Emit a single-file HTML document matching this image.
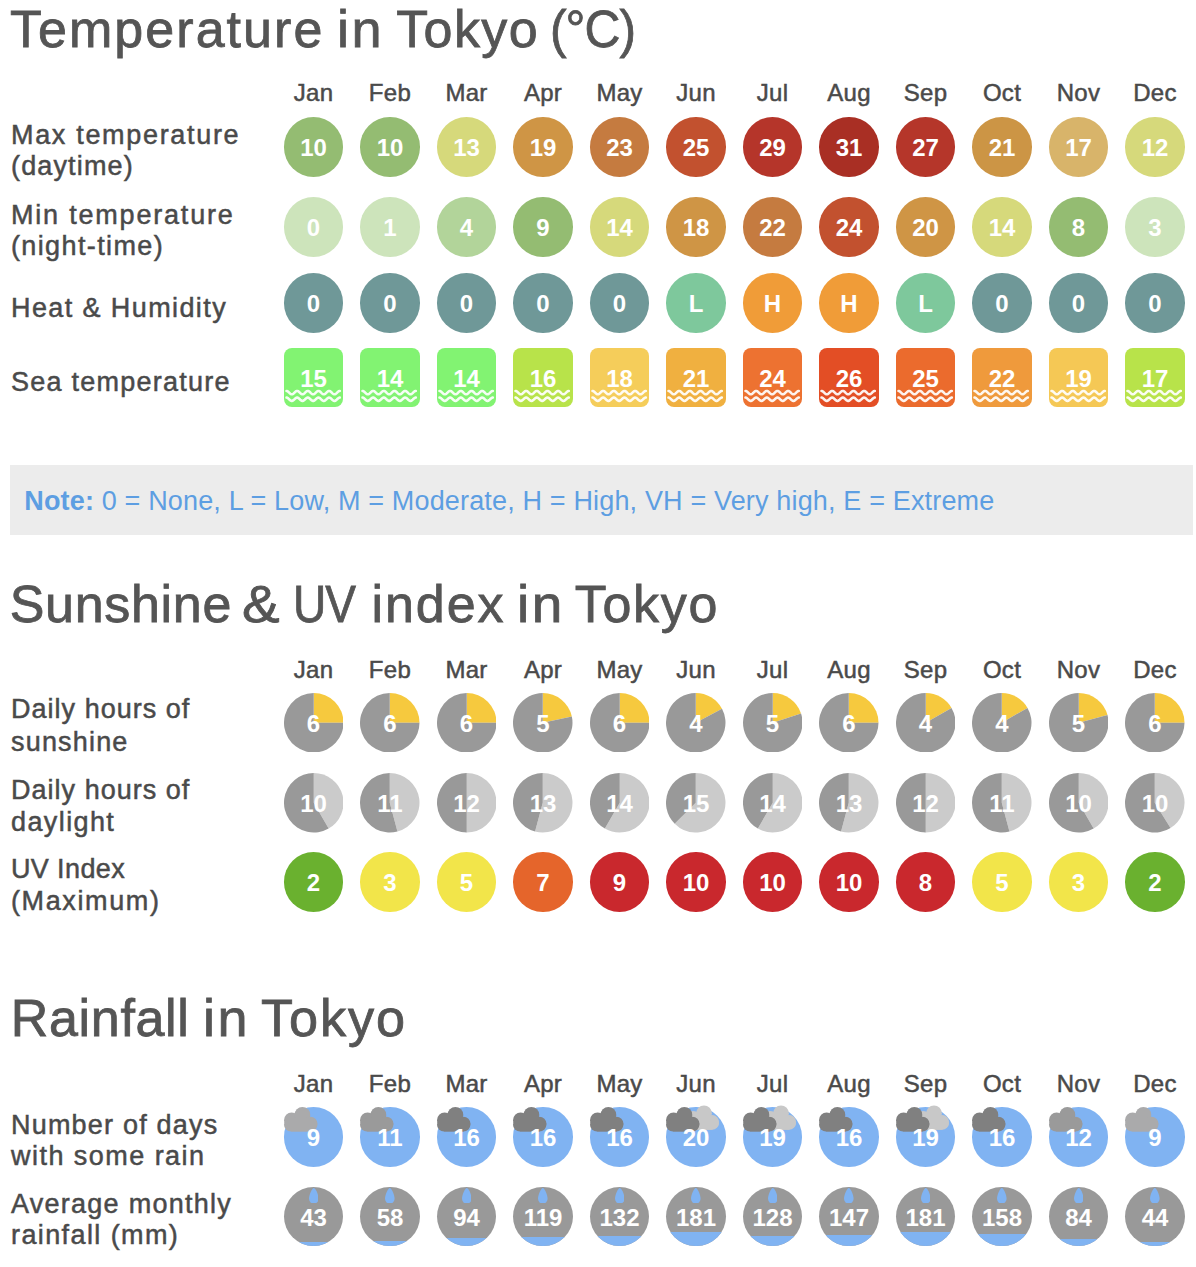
<!DOCTYPE html>
<html><head><meta charset="utf-8"><style>
html,body{margin:0;padding:0;background:#fff;width:1196px;height:1267px;overflow:hidden;position:relative}
body{font-family:"Liberation Sans",sans-serif}
.t{position:absolute;white-space:nowrap}
.c{position:absolute;width:59.5px;height:59.5px;border-radius:50%}
.sq{position:absolute;width:59.5px;height:59.5px;border-radius:8px}
.wv,.pie,.cl,.drop{position:absolute;display:block}
</style></head><body>
<div class="t" style="left:10.00px;top:2.98px;font-size:52px;line-height:52px;color:#555;font-weight:normal;letter-spacing:2.04px;-webkit-text-stroke:0.8px #555;">Temperature</div>
<div class="t" style="left:337.18px;top:2.98px;font-size:52px;line-height:52px;color:#555;font-weight:normal;letter-spacing:2.5px;-webkit-text-stroke:0.8px #555;transform:scaleX(1.0405);transform-origin:0 0;">in</div>
<div class="t" style="left:396.20px;top:2.98px;font-size:52px;line-height:52px;color:#555;font-weight:normal;letter-spacing:1.4px;-webkit-text-stroke:0.8px #555;">Tokyo</div>
<div class="t" style="left:549.83px;top:2.98px;font-size:52px;line-height:52px;color:#555;font-weight:normal;letter-spacing:-1.0px;-webkit-text-stroke:0.8px #555;transform:scaleX(0.956);transform-origin:0 0;">(°C)</div>
<div class="t" style="left:9.70px;top:578.38px;font-size:52px;line-height:52px;color:#555;font-weight:normal;letter-spacing:0.686px;-webkit-text-stroke:0.8px #555;">Sunshine</div>
<div class="t" style="left:242.42px;top:578.38px;font-size:52px;line-height:52px;color:#555;font-weight:normal;letter-spacing:0px;-webkit-text-stroke:0.8px #555;transform:scaleX(1.0848);transform-origin:0 0;">&amp;</div>
<div class="t" style="left:293.34px;top:578.38px;font-size:52px;line-height:52px;color:#555;font-weight:normal;letter-spacing:-1.0px;-webkit-text-stroke:0.8px #555;transform:scaleX(0.8853);transform-origin:0 0;">UV</div>
<div class="t" style="left:371.60px;top:578.38px;font-size:52px;line-height:52px;color:#555;font-weight:normal;letter-spacing:1.9px;-webkit-text-stroke:0.8px #555;">index</div>
<div class="t" style="left:516.83px;top:578.38px;font-size:52px;line-height:52px;color:#555;font-weight:normal;letter-spacing:2.5px;-webkit-text-stroke:0.8px #555;transform:scaleX(1.0568);transform-origin:0 0;">in</div>
<div class="t" style="left:574.70px;top:578.38px;font-size:52px;line-height:52px;color:#555;font-weight:normal;letter-spacing:1.7px;-webkit-text-stroke:0.8px #555;">Tokyo</div>
<div class="t" style="left:10.70px;top:991.98px;font-size:52px;line-height:52px;color:#555;font-weight:normal;letter-spacing:0.686px;-webkit-text-stroke:0.8px #555;">Rainfall</div>
<div class="t" style="left:203.29px;top:991.98px;font-size:52px;line-height:52px;color:#555;font-weight:normal;letter-spacing:2.5px;-webkit-text-stroke:0.8px #555;transform:scaleX(1.0378);transform-origin:0 0;">in</div>
<div class="t" style="left:260.69px;top:991.98px;font-size:52px;line-height:52px;color:#555;font-weight:normal;letter-spacing:1.85px;-webkit-text-stroke:0.8px #555;transform:scaleX(1.005);transform-origin:0 0;">Tokyo</div>
<div class="t" style="left:113.50px;width:400px;text-align:center;top:81.28px;font-size:24px;line-height:24px;color:#4a4a4a;font-weight:normal;letter-spacing:0.3px;-webkit-text-stroke:0.5px #4a4a4a;">Jan</div>
<div class="t" style="left:190.00px;width:400px;text-align:center;top:81.28px;font-size:24px;line-height:24px;color:#4a4a4a;font-weight:normal;letter-spacing:0.3px;-webkit-text-stroke:0.5px #4a4a4a;">Feb</div>
<div class="t" style="left:266.50px;width:400px;text-align:center;top:81.28px;font-size:24px;line-height:24px;color:#4a4a4a;font-weight:normal;letter-spacing:0.3px;-webkit-text-stroke:0.5px #4a4a4a;">Mar</div>
<div class="t" style="left:343.00px;width:400px;text-align:center;top:81.28px;font-size:24px;line-height:24px;color:#4a4a4a;font-weight:normal;letter-spacing:0.3px;-webkit-text-stroke:0.5px #4a4a4a;">Apr</div>
<div class="t" style="left:419.50px;width:400px;text-align:center;top:81.28px;font-size:24px;line-height:24px;color:#4a4a4a;font-weight:normal;letter-spacing:0.3px;-webkit-text-stroke:0.5px #4a4a4a;">May</div>
<div class="t" style="left:496.00px;width:400px;text-align:center;top:81.28px;font-size:24px;line-height:24px;color:#4a4a4a;font-weight:normal;letter-spacing:0.3px;-webkit-text-stroke:0.5px #4a4a4a;">Jun</div>
<div class="t" style="left:572.50px;width:400px;text-align:center;top:81.28px;font-size:24px;line-height:24px;color:#4a4a4a;font-weight:normal;letter-spacing:0.3px;-webkit-text-stroke:0.5px #4a4a4a;">Jul</div>
<div class="t" style="left:649.00px;width:400px;text-align:center;top:81.28px;font-size:24px;line-height:24px;color:#4a4a4a;font-weight:normal;letter-spacing:0.3px;-webkit-text-stroke:0.5px #4a4a4a;">Aug</div>
<div class="t" style="left:725.50px;width:400px;text-align:center;top:81.28px;font-size:24px;line-height:24px;color:#4a4a4a;font-weight:normal;letter-spacing:0.3px;-webkit-text-stroke:0.5px #4a4a4a;">Sep</div>
<div class="t" style="left:802.00px;width:400px;text-align:center;top:81.28px;font-size:24px;line-height:24px;color:#4a4a4a;font-weight:normal;letter-spacing:0.3px;-webkit-text-stroke:0.5px #4a4a4a;">Oct</div>
<div class="t" style="left:878.50px;width:400px;text-align:center;top:81.28px;font-size:24px;line-height:24px;color:#4a4a4a;font-weight:normal;letter-spacing:0.3px;-webkit-text-stroke:0.5px #4a4a4a;">Nov</div>
<div class="t" style="left:955.00px;width:400px;text-align:center;top:81.28px;font-size:24px;line-height:24px;color:#4a4a4a;font-weight:normal;letter-spacing:0.3px;-webkit-text-stroke:0.5px #4a4a4a;">Dec</div>
<div class="t" style="left:113.50px;width:400px;text-align:center;top:658.38px;font-size:24px;line-height:24px;color:#4a4a4a;font-weight:normal;letter-spacing:0.3px;-webkit-text-stroke:0.5px #4a4a4a;">Jan</div>
<div class="t" style="left:190.00px;width:400px;text-align:center;top:658.38px;font-size:24px;line-height:24px;color:#4a4a4a;font-weight:normal;letter-spacing:0.3px;-webkit-text-stroke:0.5px #4a4a4a;">Feb</div>
<div class="t" style="left:266.50px;width:400px;text-align:center;top:658.38px;font-size:24px;line-height:24px;color:#4a4a4a;font-weight:normal;letter-spacing:0.3px;-webkit-text-stroke:0.5px #4a4a4a;">Mar</div>
<div class="t" style="left:343.00px;width:400px;text-align:center;top:658.38px;font-size:24px;line-height:24px;color:#4a4a4a;font-weight:normal;letter-spacing:0.3px;-webkit-text-stroke:0.5px #4a4a4a;">Apr</div>
<div class="t" style="left:419.50px;width:400px;text-align:center;top:658.38px;font-size:24px;line-height:24px;color:#4a4a4a;font-weight:normal;letter-spacing:0.3px;-webkit-text-stroke:0.5px #4a4a4a;">May</div>
<div class="t" style="left:496.00px;width:400px;text-align:center;top:658.38px;font-size:24px;line-height:24px;color:#4a4a4a;font-weight:normal;letter-spacing:0.3px;-webkit-text-stroke:0.5px #4a4a4a;">Jun</div>
<div class="t" style="left:572.50px;width:400px;text-align:center;top:658.38px;font-size:24px;line-height:24px;color:#4a4a4a;font-weight:normal;letter-spacing:0.3px;-webkit-text-stroke:0.5px #4a4a4a;">Jul</div>
<div class="t" style="left:649.00px;width:400px;text-align:center;top:658.38px;font-size:24px;line-height:24px;color:#4a4a4a;font-weight:normal;letter-spacing:0.3px;-webkit-text-stroke:0.5px #4a4a4a;">Aug</div>
<div class="t" style="left:725.50px;width:400px;text-align:center;top:658.38px;font-size:24px;line-height:24px;color:#4a4a4a;font-weight:normal;letter-spacing:0.3px;-webkit-text-stroke:0.5px #4a4a4a;">Sep</div>
<div class="t" style="left:802.00px;width:400px;text-align:center;top:658.38px;font-size:24px;line-height:24px;color:#4a4a4a;font-weight:normal;letter-spacing:0.3px;-webkit-text-stroke:0.5px #4a4a4a;">Oct</div>
<div class="t" style="left:878.50px;width:400px;text-align:center;top:658.38px;font-size:24px;line-height:24px;color:#4a4a4a;font-weight:normal;letter-spacing:0.3px;-webkit-text-stroke:0.5px #4a4a4a;">Nov</div>
<div class="t" style="left:955.00px;width:400px;text-align:center;top:658.38px;font-size:24px;line-height:24px;color:#4a4a4a;font-weight:normal;letter-spacing:0.3px;-webkit-text-stroke:0.5px #4a4a4a;">Dec</div>
<div class="t" style="left:113.50px;width:400px;text-align:center;top:1071.68px;font-size:24px;line-height:24px;color:#4a4a4a;font-weight:normal;letter-spacing:0.3px;-webkit-text-stroke:0.5px #4a4a4a;">Jan</div>
<div class="t" style="left:190.00px;width:400px;text-align:center;top:1071.68px;font-size:24px;line-height:24px;color:#4a4a4a;font-weight:normal;letter-spacing:0.3px;-webkit-text-stroke:0.5px #4a4a4a;">Feb</div>
<div class="t" style="left:266.50px;width:400px;text-align:center;top:1071.68px;font-size:24px;line-height:24px;color:#4a4a4a;font-weight:normal;letter-spacing:0.3px;-webkit-text-stroke:0.5px #4a4a4a;">Mar</div>
<div class="t" style="left:343.00px;width:400px;text-align:center;top:1071.68px;font-size:24px;line-height:24px;color:#4a4a4a;font-weight:normal;letter-spacing:0.3px;-webkit-text-stroke:0.5px #4a4a4a;">Apr</div>
<div class="t" style="left:419.50px;width:400px;text-align:center;top:1071.68px;font-size:24px;line-height:24px;color:#4a4a4a;font-weight:normal;letter-spacing:0.3px;-webkit-text-stroke:0.5px #4a4a4a;">May</div>
<div class="t" style="left:496.00px;width:400px;text-align:center;top:1071.68px;font-size:24px;line-height:24px;color:#4a4a4a;font-weight:normal;letter-spacing:0.3px;-webkit-text-stroke:0.5px #4a4a4a;">Jun</div>
<div class="t" style="left:572.50px;width:400px;text-align:center;top:1071.68px;font-size:24px;line-height:24px;color:#4a4a4a;font-weight:normal;letter-spacing:0.3px;-webkit-text-stroke:0.5px #4a4a4a;">Jul</div>
<div class="t" style="left:649.00px;width:400px;text-align:center;top:1071.68px;font-size:24px;line-height:24px;color:#4a4a4a;font-weight:normal;letter-spacing:0.3px;-webkit-text-stroke:0.5px #4a4a4a;">Aug</div>
<div class="t" style="left:725.50px;width:400px;text-align:center;top:1071.68px;font-size:24px;line-height:24px;color:#4a4a4a;font-weight:normal;letter-spacing:0.3px;-webkit-text-stroke:0.5px #4a4a4a;">Sep</div>
<div class="t" style="left:802.00px;width:400px;text-align:center;top:1071.68px;font-size:24px;line-height:24px;color:#4a4a4a;font-weight:normal;letter-spacing:0.3px;-webkit-text-stroke:0.5px #4a4a4a;">Oct</div>
<div class="t" style="left:878.50px;width:400px;text-align:center;top:1071.68px;font-size:24px;line-height:24px;color:#4a4a4a;font-weight:normal;letter-spacing:0.3px;-webkit-text-stroke:0.5px #4a4a4a;">Nov</div>
<div class="t" style="left:955.00px;width:400px;text-align:center;top:1071.68px;font-size:24px;line-height:24px;color:#4a4a4a;font-weight:normal;letter-spacing:0.3px;-webkit-text-stroke:0.5px #4a4a4a;">Dec</div>
<div class="t" style="left:11.00px;top:122.04px;font-size:27px;line-height:27px;color:#4a4a4a;font-weight:normal;letter-spacing:1.681px;-webkit-text-stroke:0.5px #4a4a4a;">Max temperature</div>
<div class="t" style="left:11.00px;top:152.64px;font-size:27px;line-height:27px;color:#4a4a4a;font-weight:normal;letter-spacing:1.15px;-webkit-text-stroke:0.5px #4a4a4a;">(daytime)</div>
<div class="t" style="left:11.00px;top:202.04px;font-size:27px;line-height:27px;color:#4a4a4a;font-weight:normal;letter-spacing:1.7999999999999998px;-webkit-text-stroke:0.5px #4a4a4a;">Min temperature</div>
<div class="t" style="left:11.00px;top:232.64px;font-size:27px;line-height:27px;color:#4a4a4a;font-weight:normal;letter-spacing:1.373px;-webkit-text-stroke:0.5px #4a4a4a;">(night-time)</div>
<div class="t" style="left:11.00px;top:295.34px;font-size:27px;line-height:27px;color:#4a4a4a;font-weight:normal;letter-spacing:1.4px;-webkit-text-stroke:0.5px #4a4a4a;">Heat &amp; Humidity</div>
<div class="t" style="left:11.00px;top:368.54px;font-size:27px;line-height:27px;color:#4a4a4a;font-weight:normal;letter-spacing:1.25px;-webkit-text-stroke:0.5px #4a4a4a;">Sea temperature</div>
<div class="t" style="left:11.00px;top:696.34px;font-size:27px;line-height:27px;color:#4a4a4a;font-weight:normal;letter-spacing:1.0219999999999998px;-webkit-text-stroke:0.5px #4a4a4a;">Daily hours of</div>
<div class="t" style="left:11.00px;top:728.64px;font-size:27px;line-height:27px;color:#4a4a4a;font-weight:normal;letter-spacing:1.186px;-webkit-text-stroke:0.5px #4a4a4a;">sunshine</div>
<div class="t" style="left:11.00px;top:776.84px;font-size:27px;line-height:27px;color:#4a4a4a;font-weight:normal;letter-spacing:1.0219999999999998px;-webkit-text-stroke:0.5px #4a4a4a;">Daily hours of</div>
<div class="t" style="left:11.00px;top:808.64px;font-size:27px;line-height:27px;color:#4a4a4a;font-weight:normal;letter-spacing:1.4px;-webkit-text-stroke:0.5px #4a4a4a;">daylight</div>
<div class="t" style="left:11.00px;top:856.24px;font-size:27px;line-height:27px;color:#4a4a4a;font-weight:normal;letter-spacing:0.371px;-webkit-text-stroke:0.5px #4a4a4a;">UV Index</div>
<div class="t" style="left:11.00px;top:888.04px;font-size:27px;line-height:27px;color:#4a4a4a;font-weight:normal;letter-spacing:1.6199999999999999px;-webkit-text-stroke:0.5px #4a4a4a;">(Maximum)</div>
<div class="t" style="left:11.00px;top:1112.04px;font-size:27px;line-height:27px;color:#4a4a4a;font-weight:normal;letter-spacing:1.2px;-webkit-text-stroke:0.5px #4a4a4a;">Number of days</div>
<div class="t" style="left:11.00px;top:1143.34px;font-size:27px;line-height:27px;color:#4a4a4a;font-weight:normal;letter-spacing:1.462px;-webkit-text-stroke:0.5px #4a4a4a;">with some rain</div>
<div class="t" style="left:11.00px;top:1191.04px;font-size:27px;line-height:27px;color:#4a4a4a;font-weight:normal;letter-spacing:1.257px;-webkit-text-stroke:0.5px #4a4a4a;">Average monthly</div>
<div class="t" style="left:11.00px;top:1222.34px;font-size:27px;line-height:27px;color:#4a4a4a;font-weight:normal;letter-spacing:1.4px;-webkit-text-stroke:0.5px #4a4a4a;">rainfall (mm)</div>
<div style="position:absolute;left:10px;top:465px;width:1183px;height:70px;background:#ececec"></div>
<div class="t" style="left:24.30px;top:487.54px;font-size:27px;line-height:27px;color:#5d9ee2;font-weight:normal;letter-spacing:0.16px;"><b>Note:</b> 0 = None, L = Low, M = Moderate, H = High, VH = Very high, E = Extreme</div>
<div class="c" style="left:283.75px;top:117.10px;background:#94bc72"></div>
<div class="t" style="left:113.50px;width:400px;text-align:center;top:136.03px;font-size:24px;line-height:24px;color:#fff;font-weight:bold;letter-spacing:0px;">10</div>
<div class="c" style="left:283.75px;top:197.10px;background:#cde4bb"></div>
<div class="t" style="left:113.50px;width:400px;text-align:center;top:216.03px;font-size:24px;line-height:24px;color:#fff;font-weight:bold;letter-spacing:0px;">0</div>
<div class="c" style="left:360.25px;top:117.10px;background:#94bc72"></div>
<div class="t" style="left:190.00px;width:400px;text-align:center;top:136.03px;font-size:24px;line-height:24px;color:#fff;font-weight:bold;letter-spacing:0px;">10</div>
<div class="c" style="left:360.25px;top:197.10px;background:#cde4bb"></div>
<div class="t" style="left:190.00px;width:400px;text-align:center;top:216.03px;font-size:24px;line-height:24px;color:#fff;font-weight:bold;letter-spacing:0px;">1</div>
<div class="c" style="left:436.75px;top:117.10px;background:#d6d97b"></div>
<div class="t" style="left:266.50px;width:400px;text-align:center;top:136.03px;font-size:24px;line-height:24px;color:#fff;font-weight:bold;letter-spacing:0px;">13</div>
<div class="c" style="left:436.75px;top:197.10px;background:#b2d49a"></div>
<div class="t" style="left:266.50px;width:400px;text-align:center;top:216.03px;font-size:24px;line-height:24px;color:#fff;font-weight:bold;letter-spacing:0px;">4</div>
<div class="c" style="left:513.25px;top:117.10px;background:#cf9545"></div>
<div class="t" style="left:343.00px;width:400px;text-align:center;top:136.03px;font-size:24px;line-height:24px;color:#fff;font-weight:bold;letter-spacing:0px;">19</div>
<div class="c" style="left:513.25px;top:197.10px;background:#94bc72"></div>
<div class="t" style="left:343.00px;width:400px;text-align:center;top:216.03px;font-size:24px;line-height:24px;color:#fff;font-weight:bold;letter-spacing:0px;">9</div>
<div class="c" style="left:589.75px;top:117.10px;background:#c57b40"></div>
<div class="t" style="left:419.50px;width:400px;text-align:center;top:136.03px;font-size:24px;line-height:24px;color:#fff;font-weight:bold;letter-spacing:0px;">23</div>
<div class="c" style="left:589.75px;top:197.10px;background:#d6d97b"></div>
<div class="t" style="left:419.50px;width:400px;text-align:center;top:216.03px;font-size:24px;line-height:24px;color:#fff;font-weight:bold;letter-spacing:0px;">14</div>
<div class="c" style="left:666.25px;top:117.10px;background:#c2512f"></div>
<div class="t" style="left:496.00px;width:400px;text-align:center;top:136.03px;font-size:24px;line-height:24px;color:#fff;font-weight:bold;letter-spacing:0px;">25</div>
<div class="c" style="left:666.25px;top:197.10px;background:#cf9545"></div>
<div class="t" style="left:496.00px;width:400px;text-align:center;top:216.03px;font-size:24px;line-height:24px;color:#fff;font-weight:bold;letter-spacing:0px;">18</div>
<div class="c" style="left:742.75px;top:117.10px;background:#b5352a"></div>
<div class="t" style="left:572.50px;width:400px;text-align:center;top:136.03px;font-size:24px;line-height:24px;color:#fff;font-weight:bold;letter-spacing:0px;">29</div>
<div class="c" style="left:742.75px;top:197.10px;background:#c57b40"></div>
<div class="t" style="left:572.50px;width:400px;text-align:center;top:216.03px;font-size:24px;line-height:24px;color:#fff;font-weight:bold;letter-spacing:0px;">22</div>
<div class="c" style="left:819.25px;top:117.10px;background:#a92f24"></div>
<div class="t" style="left:649.00px;width:400px;text-align:center;top:136.03px;font-size:24px;line-height:24px;color:#fff;font-weight:bold;letter-spacing:0px;">31</div>
<div class="c" style="left:819.25px;top:197.10px;background:#c2512f"></div>
<div class="t" style="left:649.00px;width:400px;text-align:center;top:216.03px;font-size:24px;line-height:24px;color:#fff;font-weight:bold;letter-spacing:0px;">24</div>
<div class="c" style="left:895.75px;top:117.10px;background:#b5362a"></div>
<div class="t" style="left:725.50px;width:400px;text-align:center;top:136.03px;font-size:24px;line-height:24px;color:#fff;font-weight:bold;letter-spacing:0px;">27</div>
<div class="c" style="left:895.75px;top:197.10px;background:#cf9545"></div>
<div class="t" style="left:725.50px;width:400px;text-align:center;top:216.03px;font-size:24px;line-height:24px;color:#fff;font-weight:bold;letter-spacing:0px;">20</div>
<div class="c" style="left:972.25px;top:117.10px;background:#cc9545"></div>
<div class="t" style="left:802.00px;width:400px;text-align:center;top:136.03px;font-size:24px;line-height:24px;color:#fff;font-weight:bold;letter-spacing:0px;">21</div>
<div class="c" style="left:972.25px;top:197.10px;background:#d6d97b"></div>
<div class="t" style="left:802.00px;width:400px;text-align:center;top:216.03px;font-size:24px;line-height:24px;color:#fff;font-weight:bold;letter-spacing:0px;">14</div>
<div class="c" style="left:1048.75px;top:117.10px;background:#d8b46a"></div>
<div class="t" style="left:878.50px;width:400px;text-align:center;top:136.03px;font-size:24px;line-height:24px;color:#fff;font-weight:bold;letter-spacing:0px;">17</div>
<div class="c" style="left:1048.75px;top:197.10px;background:#94bc72"></div>
<div class="t" style="left:878.50px;width:400px;text-align:center;top:216.03px;font-size:24px;line-height:24px;color:#fff;font-weight:bold;letter-spacing:0px;">8</div>
<div class="c" style="left:1125.25px;top:117.10px;background:#d6d97b"></div>
<div class="t" style="left:955.00px;width:400px;text-align:center;top:136.03px;font-size:24px;line-height:24px;color:#fff;font-weight:bold;letter-spacing:0px;">12</div>
<div class="c" style="left:1125.25px;top:197.10px;background:#cde4bb"></div>
<div class="t" style="left:955.00px;width:400px;text-align:center;top:216.03px;font-size:24px;line-height:24px;color:#fff;font-weight:bold;letter-spacing:0px;">3</div>
<div class="c" style="left:283.75px;top:273.40px;background:#6f9898"></div>
<div class="t" style="left:113.50px;width:400px;text-align:center;top:292.33px;font-size:24px;line-height:24px;color:#fff;font-weight:bold;letter-spacing:0px;">0</div>
<div class="c" style="left:360.25px;top:273.40px;background:#6f9898"></div>
<div class="t" style="left:190.00px;width:400px;text-align:center;top:292.33px;font-size:24px;line-height:24px;color:#fff;font-weight:bold;letter-spacing:0px;">0</div>
<div class="c" style="left:436.75px;top:273.40px;background:#6f9898"></div>
<div class="t" style="left:266.50px;width:400px;text-align:center;top:292.33px;font-size:24px;line-height:24px;color:#fff;font-weight:bold;letter-spacing:0px;">0</div>
<div class="c" style="left:513.25px;top:273.40px;background:#6f9898"></div>
<div class="t" style="left:343.00px;width:400px;text-align:center;top:292.33px;font-size:24px;line-height:24px;color:#fff;font-weight:bold;letter-spacing:0px;">0</div>
<div class="c" style="left:589.75px;top:273.40px;background:#6f9898"></div>
<div class="t" style="left:419.50px;width:400px;text-align:center;top:292.33px;font-size:24px;line-height:24px;color:#fff;font-weight:bold;letter-spacing:0px;">0</div>
<div class="c" style="left:666.25px;top:273.40px;background:#7ec89c"></div>
<div class="t" style="left:496.00px;width:400px;text-align:center;top:292.33px;font-size:24px;line-height:24px;color:#fff;font-weight:bold;letter-spacing:0px;">L</div>
<div class="c" style="left:742.75px;top:273.40px;background:#f09c38"></div>
<div class="t" style="left:572.50px;width:400px;text-align:center;top:292.33px;font-size:24px;line-height:24px;color:#fff;font-weight:bold;letter-spacing:0px;">H</div>
<div class="c" style="left:819.25px;top:273.40px;background:#f09c38"></div>
<div class="t" style="left:649.00px;width:400px;text-align:center;top:292.33px;font-size:24px;line-height:24px;color:#fff;font-weight:bold;letter-spacing:0px;">H</div>
<div class="c" style="left:895.75px;top:273.40px;background:#7ec89c"></div>
<div class="t" style="left:725.50px;width:400px;text-align:center;top:292.33px;font-size:24px;line-height:24px;color:#fff;font-weight:bold;letter-spacing:0px;">L</div>
<div class="c" style="left:972.25px;top:273.40px;background:#6f9898"></div>
<div class="t" style="left:802.00px;width:400px;text-align:center;top:292.33px;font-size:24px;line-height:24px;color:#fff;font-weight:bold;letter-spacing:0px;">0</div>
<div class="c" style="left:1048.75px;top:273.40px;background:#6f9898"></div>
<div class="t" style="left:878.50px;width:400px;text-align:center;top:292.33px;font-size:24px;line-height:24px;color:#fff;font-weight:bold;letter-spacing:0px;">0</div>
<div class="c" style="left:1125.25px;top:273.40px;background:#6f9898"></div>
<div class="t" style="left:955.00px;width:400px;text-align:center;top:292.33px;font-size:24px;line-height:24px;color:#fff;font-weight:bold;letter-spacing:0px;">0</div>
<div class="sq" style="left:283.75px;top:347.50px;background:#82f372"></div>
<svg class="wv" style="left:283.75px;top:347.50px" width="59.5" height="59.5" viewBox="0 0 60 60"><polyline points="2.50,43.30 2.95,43.36 3.40,43.53 3.84,43.80 4.29,44.15 4.74,44.56 5.19,45.00 5.64,45.44 6.09,45.85 6.54,46.20 6.98,46.47 7.43,46.64 7.88,46.70 8.33,46.64 8.78,46.47 9.22,46.20 9.67,45.84 10.12,45.43 10.57,44.99 11.02,44.55 11.47,44.14 11.91,43.79 12.36,43.52 12.81,43.36 13.26,43.30 13.71,43.36 14.16,43.53 14.60,43.81 15.05,44.16 15.50,44.57 15.95,45.01 16.40,45.45 16.85,45.86 17.29,46.21 17.74,46.48 18.19,46.65 18.64,46.70 19.09,46.64 19.54,46.46 19.98,46.19 20.43,45.84 20.88,45.42 21.33,44.98 21.78,44.54 22.23,44.13 22.68,43.78 23.12,43.52 23.57,43.35 24.02,43.30 24.47,43.36 24.92,43.54 25.36,43.81 25.81,44.17 26.26,44.58 26.71,45.02 27.16,45.46 27.61,45.87 28.05,46.22 28.50,46.48 28.95,46.65 29.40,46.70 29.85,46.64 30.30,46.46 30.74,46.18 31.19,45.83 31.64,45.41 32.09,44.97 32.54,44.53 32.99,44.13 33.44,43.78 33.88,43.51 34.33,43.35 34.78,43.30 35.23,43.37 35.68,43.54 36.12,43.82 36.57,44.18 37.02,44.59 37.47,45.03 37.92,45.47 38.37,45.88 38.82,46.23 39.26,46.49 39.71,46.65 40.16,46.70 40.61,46.63 41.06,46.45 41.50,46.18 41.95,45.82 42.40,45.40 42.85,44.96 43.30,44.52 43.75,44.12 44.20,43.77 44.64,43.51 45.09,43.35 45.54,43.30 45.99,43.37 46.44,43.55 46.88,43.83 47.33,44.19 47.78,44.60 48.23,45.04 48.68,45.48 49.13,45.89 49.58,46.23 50.02,46.49 50.47,46.65 50.92,46.70 51.37,46.63 51.82,46.45 52.26,46.17 52.71,45.81 53.16,45.39 53.61,44.95 54.06,44.51 54.51,44.11 54.95,43.76 55.40,43.50 55.85,43.35 56.30,43.30" fill="none" stroke="#fff" stroke-opacity="0.92" stroke-width="2.6" stroke-linejoin="round" stroke-linecap="round"/><polyline points="2.50,50.00 2.95,50.06 3.40,50.23 3.84,50.50 4.29,50.85 4.74,51.26 5.19,51.70 5.64,52.14 6.09,52.55 6.54,52.90 6.98,53.17 7.43,53.34 7.88,53.40 8.33,53.34 8.78,53.17 9.22,52.90 9.67,52.54 10.12,52.13 10.57,51.69 11.02,51.25 11.47,50.84 11.91,50.49 12.36,50.22 12.81,50.06 13.26,50.00 13.71,50.06 14.16,50.23 14.60,50.51 15.05,50.86 15.50,51.27 15.95,51.71 16.40,52.15 16.85,52.56 17.29,52.91 17.74,53.18 18.19,53.35 18.64,53.40 19.09,53.34 19.54,53.16 19.98,52.89 20.43,52.54 20.88,52.12 21.33,51.68 21.78,51.24 22.23,50.83 22.68,50.48 23.12,50.22 23.57,50.05 24.02,50.00 24.47,50.06 24.92,50.24 25.36,50.51 25.81,50.87 26.26,51.28 26.71,51.72 27.16,52.16 27.61,52.57 28.05,52.92 28.50,53.18 28.95,53.35 29.40,53.40 29.85,53.34 30.30,53.16 30.74,52.88 31.19,52.53 31.64,52.11 32.09,51.67 32.54,51.23 32.99,50.83 33.44,50.48 33.88,50.21 34.33,50.05 34.78,50.00 35.23,50.07 35.68,50.24 36.12,50.52 36.57,50.88 37.02,51.29 37.47,51.73 37.92,52.17 38.37,52.58 38.82,52.93 39.26,53.19 39.71,53.35 40.16,53.40 40.61,53.33 41.06,53.15 41.50,52.88 41.95,52.52 42.40,52.10 42.85,51.66 43.30,51.22 43.75,50.82 44.20,50.47 44.64,50.21 45.09,50.05 45.54,50.00 45.99,50.07 46.44,50.25 46.88,50.53 47.33,50.89 47.78,51.30 48.23,51.74 48.68,52.18 49.13,52.59 49.58,52.93 50.02,53.19 50.47,53.35 50.92,53.40 51.37,53.33 51.82,53.15 52.26,52.87 52.71,52.51 53.16,52.09 53.61,51.65 54.06,51.21 54.51,50.81 54.95,50.46 55.40,50.20 55.85,50.05 56.30,50.00" fill="none" stroke="#fff" stroke-opacity="0.92" stroke-width="2.6" stroke-linejoin="round" stroke-linecap="round"/></svg>
<div class="t" style="left:113.50px;width:400px;text-align:center;top:367.48px;font-size:24px;line-height:24px;color:#fff;font-weight:bold;letter-spacing:0px;">15</div>
<div class="sq" style="left:360.25px;top:347.50px;background:#82f372"></div>
<svg class="wv" style="left:360.25px;top:347.50px" width="59.5" height="59.5" viewBox="0 0 60 60"><polyline points="2.50,43.30 2.95,43.36 3.40,43.53 3.84,43.80 4.29,44.15 4.74,44.56 5.19,45.00 5.64,45.44 6.09,45.85 6.54,46.20 6.98,46.47 7.43,46.64 7.88,46.70 8.33,46.64 8.78,46.47 9.22,46.20 9.67,45.84 10.12,45.43 10.57,44.99 11.02,44.55 11.47,44.14 11.91,43.79 12.36,43.52 12.81,43.36 13.26,43.30 13.71,43.36 14.16,43.53 14.60,43.81 15.05,44.16 15.50,44.57 15.95,45.01 16.40,45.45 16.85,45.86 17.29,46.21 17.74,46.48 18.19,46.65 18.64,46.70 19.09,46.64 19.54,46.46 19.98,46.19 20.43,45.84 20.88,45.42 21.33,44.98 21.78,44.54 22.23,44.13 22.68,43.78 23.12,43.52 23.57,43.35 24.02,43.30 24.47,43.36 24.92,43.54 25.36,43.81 25.81,44.17 26.26,44.58 26.71,45.02 27.16,45.46 27.61,45.87 28.05,46.22 28.50,46.48 28.95,46.65 29.40,46.70 29.85,46.64 30.30,46.46 30.74,46.18 31.19,45.83 31.64,45.41 32.09,44.97 32.54,44.53 32.99,44.13 33.44,43.78 33.88,43.51 34.33,43.35 34.78,43.30 35.23,43.37 35.68,43.54 36.12,43.82 36.57,44.18 37.02,44.59 37.47,45.03 37.92,45.47 38.37,45.88 38.82,46.23 39.26,46.49 39.71,46.65 40.16,46.70 40.61,46.63 41.06,46.45 41.50,46.18 41.95,45.82 42.40,45.40 42.85,44.96 43.30,44.52 43.75,44.12 44.20,43.77 44.64,43.51 45.09,43.35 45.54,43.30 45.99,43.37 46.44,43.55 46.88,43.83 47.33,44.19 47.78,44.60 48.23,45.04 48.68,45.48 49.13,45.89 49.58,46.23 50.02,46.49 50.47,46.65 50.92,46.70 51.37,46.63 51.82,46.45 52.26,46.17 52.71,45.81 53.16,45.39 53.61,44.95 54.06,44.51 54.51,44.11 54.95,43.76 55.40,43.50 55.85,43.35 56.30,43.30" fill="none" stroke="#fff" stroke-opacity="0.92" stroke-width="2.6" stroke-linejoin="round" stroke-linecap="round"/><polyline points="2.50,50.00 2.95,50.06 3.40,50.23 3.84,50.50 4.29,50.85 4.74,51.26 5.19,51.70 5.64,52.14 6.09,52.55 6.54,52.90 6.98,53.17 7.43,53.34 7.88,53.40 8.33,53.34 8.78,53.17 9.22,52.90 9.67,52.54 10.12,52.13 10.57,51.69 11.02,51.25 11.47,50.84 11.91,50.49 12.36,50.22 12.81,50.06 13.26,50.00 13.71,50.06 14.16,50.23 14.60,50.51 15.05,50.86 15.50,51.27 15.95,51.71 16.40,52.15 16.85,52.56 17.29,52.91 17.74,53.18 18.19,53.35 18.64,53.40 19.09,53.34 19.54,53.16 19.98,52.89 20.43,52.54 20.88,52.12 21.33,51.68 21.78,51.24 22.23,50.83 22.68,50.48 23.12,50.22 23.57,50.05 24.02,50.00 24.47,50.06 24.92,50.24 25.36,50.51 25.81,50.87 26.26,51.28 26.71,51.72 27.16,52.16 27.61,52.57 28.05,52.92 28.50,53.18 28.95,53.35 29.40,53.40 29.85,53.34 30.30,53.16 30.74,52.88 31.19,52.53 31.64,52.11 32.09,51.67 32.54,51.23 32.99,50.83 33.44,50.48 33.88,50.21 34.33,50.05 34.78,50.00 35.23,50.07 35.68,50.24 36.12,50.52 36.57,50.88 37.02,51.29 37.47,51.73 37.92,52.17 38.37,52.58 38.82,52.93 39.26,53.19 39.71,53.35 40.16,53.40 40.61,53.33 41.06,53.15 41.50,52.88 41.95,52.52 42.40,52.10 42.85,51.66 43.30,51.22 43.75,50.82 44.20,50.47 44.64,50.21 45.09,50.05 45.54,50.00 45.99,50.07 46.44,50.25 46.88,50.53 47.33,50.89 47.78,51.30 48.23,51.74 48.68,52.18 49.13,52.59 49.58,52.93 50.02,53.19 50.47,53.35 50.92,53.40 51.37,53.33 51.82,53.15 52.26,52.87 52.71,52.51 53.16,52.09 53.61,51.65 54.06,51.21 54.51,50.81 54.95,50.46 55.40,50.20 55.85,50.05 56.30,50.00" fill="none" stroke="#fff" stroke-opacity="0.92" stroke-width="2.6" stroke-linejoin="round" stroke-linecap="round"/></svg>
<div class="t" style="left:190.00px;width:400px;text-align:center;top:367.48px;font-size:24px;line-height:24px;color:#fff;font-weight:bold;letter-spacing:0px;">14</div>
<div class="sq" style="left:436.75px;top:347.50px;background:#82f372"></div>
<svg class="wv" style="left:436.75px;top:347.50px" width="59.5" height="59.5" viewBox="0 0 60 60"><polyline points="2.50,43.30 2.95,43.36 3.40,43.53 3.84,43.80 4.29,44.15 4.74,44.56 5.19,45.00 5.64,45.44 6.09,45.85 6.54,46.20 6.98,46.47 7.43,46.64 7.88,46.70 8.33,46.64 8.78,46.47 9.22,46.20 9.67,45.84 10.12,45.43 10.57,44.99 11.02,44.55 11.47,44.14 11.91,43.79 12.36,43.52 12.81,43.36 13.26,43.30 13.71,43.36 14.16,43.53 14.60,43.81 15.05,44.16 15.50,44.57 15.95,45.01 16.40,45.45 16.85,45.86 17.29,46.21 17.74,46.48 18.19,46.65 18.64,46.70 19.09,46.64 19.54,46.46 19.98,46.19 20.43,45.84 20.88,45.42 21.33,44.98 21.78,44.54 22.23,44.13 22.68,43.78 23.12,43.52 23.57,43.35 24.02,43.30 24.47,43.36 24.92,43.54 25.36,43.81 25.81,44.17 26.26,44.58 26.71,45.02 27.16,45.46 27.61,45.87 28.05,46.22 28.50,46.48 28.95,46.65 29.40,46.70 29.85,46.64 30.30,46.46 30.74,46.18 31.19,45.83 31.64,45.41 32.09,44.97 32.54,44.53 32.99,44.13 33.44,43.78 33.88,43.51 34.33,43.35 34.78,43.30 35.23,43.37 35.68,43.54 36.12,43.82 36.57,44.18 37.02,44.59 37.47,45.03 37.92,45.47 38.37,45.88 38.82,46.23 39.26,46.49 39.71,46.65 40.16,46.70 40.61,46.63 41.06,46.45 41.50,46.18 41.95,45.82 42.40,45.40 42.85,44.96 43.30,44.52 43.75,44.12 44.20,43.77 44.64,43.51 45.09,43.35 45.54,43.30 45.99,43.37 46.44,43.55 46.88,43.83 47.33,44.19 47.78,44.60 48.23,45.04 48.68,45.48 49.13,45.89 49.58,46.23 50.02,46.49 50.47,46.65 50.92,46.70 51.37,46.63 51.82,46.45 52.26,46.17 52.71,45.81 53.16,45.39 53.61,44.95 54.06,44.51 54.51,44.11 54.95,43.76 55.40,43.50 55.85,43.35 56.30,43.30" fill="none" stroke="#fff" stroke-opacity="0.92" stroke-width="2.6" stroke-linejoin="round" stroke-linecap="round"/><polyline points="2.50,50.00 2.95,50.06 3.40,50.23 3.84,50.50 4.29,50.85 4.74,51.26 5.19,51.70 5.64,52.14 6.09,52.55 6.54,52.90 6.98,53.17 7.43,53.34 7.88,53.40 8.33,53.34 8.78,53.17 9.22,52.90 9.67,52.54 10.12,52.13 10.57,51.69 11.02,51.25 11.47,50.84 11.91,50.49 12.36,50.22 12.81,50.06 13.26,50.00 13.71,50.06 14.16,50.23 14.60,50.51 15.05,50.86 15.50,51.27 15.95,51.71 16.40,52.15 16.85,52.56 17.29,52.91 17.74,53.18 18.19,53.35 18.64,53.40 19.09,53.34 19.54,53.16 19.98,52.89 20.43,52.54 20.88,52.12 21.33,51.68 21.78,51.24 22.23,50.83 22.68,50.48 23.12,50.22 23.57,50.05 24.02,50.00 24.47,50.06 24.92,50.24 25.36,50.51 25.81,50.87 26.26,51.28 26.71,51.72 27.16,52.16 27.61,52.57 28.05,52.92 28.50,53.18 28.95,53.35 29.40,53.40 29.85,53.34 30.30,53.16 30.74,52.88 31.19,52.53 31.64,52.11 32.09,51.67 32.54,51.23 32.99,50.83 33.44,50.48 33.88,50.21 34.33,50.05 34.78,50.00 35.23,50.07 35.68,50.24 36.12,50.52 36.57,50.88 37.02,51.29 37.47,51.73 37.92,52.17 38.37,52.58 38.82,52.93 39.26,53.19 39.71,53.35 40.16,53.40 40.61,53.33 41.06,53.15 41.50,52.88 41.95,52.52 42.40,52.10 42.85,51.66 43.30,51.22 43.75,50.82 44.20,50.47 44.64,50.21 45.09,50.05 45.54,50.00 45.99,50.07 46.44,50.25 46.88,50.53 47.33,50.89 47.78,51.30 48.23,51.74 48.68,52.18 49.13,52.59 49.58,52.93 50.02,53.19 50.47,53.35 50.92,53.40 51.37,53.33 51.82,53.15 52.26,52.87 52.71,52.51 53.16,52.09 53.61,51.65 54.06,51.21 54.51,50.81 54.95,50.46 55.40,50.20 55.85,50.05 56.30,50.00" fill="none" stroke="#fff" stroke-opacity="0.92" stroke-width="2.6" stroke-linejoin="round" stroke-linecap="round"/></svg>
<div class="t" style="left:266.50px;width:400px;text-align:center;top:367.48px;font-size:24px;line-height:24px;color:#fff;font-weight:bold;letter-spacing:0px;">14</div>
<div class="sq" style="left:513.25px;top:347.50px;background:#b8e34a"></div>
<svg class="wv" style="left:513.25px;top:347.50px" width="59.5" height="59.5" viewBox="0 0 60 60"><polyline points="2.50,43.30 2.95,43.36 3.40,43.53 3.84,43.80 4.29,44.15 4.74,44.56 5.19,45.00 5.64,45.44 6.09,45.85 6.54,46.20 6.98,46.47 7.43,46.64 7.88,46.70 8.33,46.64 8.78,46.47 9.22,46.20 9.67,45.84 10.12,45.43 10.57,44.99 11.02,44.55 11.47,44.14 11.91,43.79 12.36,43.52 12.81,43.36 13.26,43.30 13.71,43.36 14.16,43.53 14.60,43.81 15.05,44.16 15.50,44.57 15.95,45.01 16.40,45.45 16.85,45.86 17.29,46.21 17.74,46.48 18.19,46.65 18.64,46.70 19.09,46.64 19.54,46.46 19.98,46.19 20.43,45.84 20.88,45.42 21.33,44.98 21.78,44.54 22.23,44.13 22.68,43.78 23.12,43.52 23.57,43.35 24.02,43.30 24.47,43.36 24.92,43.54 25.36,43.81 25.81,44.17 26.26,44.58 26.71,45.02 27.16,45.46 27.61,45.87 28.05,46.22 28.50,46.48 28.95,46.65 29.40,46.70 29.85,46.64 30.30,46.46 30.74,46.18 31.19,45.83 31.64,45.41 32.09,44.97 32.54,44.53 32.99,44.13 33.44,43.78 33.88,43.51 34.33,43.35 34.78,43.30 35.23,43.37 35.68,43.54 36.12,43.82 36.57,44.18 37.02,44.59 37.47,45.03 37.92,45.47 38.37,45.88 38.82,46.23 39.26,46.49 39.71,46.65 40.16,46.70 40.61,46.63 41.06,46.45 41.50,46.18 41.95,45.82 42.40,45.40 42.85,44.96 43.30,44.52 43.75,44.12 44.20,43.77 44.64,43.51 45.09,43.35 45.54,43.30 45.99,43.37 46.44,43.55 46.88,43.83 47.33,44.19 47.78,44.60 48.23,45.04 48.68,45.48 49.13,45.89 49.58,46.23 50.02,46.49 50.47,46.65 50.92,46.70 51.37,46.63 51.82,46.45 52.26,46.17 52.71,45.81 53.16,45.39 53.61,44.95 54.06,44.51 54.51,44.11 54.95,43.76 55.40,43.50 55.85,43.35 56.30,43.30" fill="none" stroke="#fff" stroke-opacity="0.92" stroke-width="2.6" stroke-linejoin="round" stroke-linecap="round"/><polyline points="2.50,50.00 2.95,50.06 3.40,50.23 3.84,50.50 4.29,50.85 4.74,51.26 5.19,51.70 5.64,52.14 6.09,52.55 6.54,52.90 6.98,53.17 7.43,53.34 7.88,53.40 8.33,53.34 8.78,53.17 9.22,52.90 9.67,52.54 10.12,52.13 10.57,51.69 11.02,51.25 11.47,50.84 11.91,50.49 12.36,50.22 12.81,50.06 13.26,50.00 13.71,50.06 14.16,50.23 14.60,50.51 15.05,50.86 15.50,51.27 15.95,51.71 16.40,52.15 16.85,52.56 17.29,52.91 17.74,53.18 18.19,53.35 18.64,53.40 19.09,53.34 19.54,53.16 19.98,52.89 20.43,52.54 20.88,52.12 21.33,51.68 21.78,51.24 22.23,50.83 22.68,50.48 23.12,50.22 23.57,50.05 24.02,50.00 24.47,50.06 24.92,50.24 25.36,50.51 25.81,50.87 26.26,51.28 26.71,51.72 27.16,52.16 27.61,52.57 28.05,52.92 28.50,53.18 28.95,53.35 29.40,53.40 29.85,53.34 30.30,53.16 30.74,52.88 31.19,52.53 31.64,52.11 32.09,51.67 32.54,51.23 32.99,50.83 33.44,50.48 33.88,50.21 34.33,50.05 34.78,50.00 35.23,50.07 35.68,50.24 36.12,50.52 36.57,50.88 37.02,51.29 37.47,51.73 37.92,52.17 38.37,52.58 38.82,52.93 39.26,53.19 39.71,53.35 40.16,53.40 40.61,53.33 41.06,53.15 41.50,52.88 41.95,52.52 42.40,52.10 42.85,51.66 43.30,51.22 43.75,50.82 44.20,50.47 44.64,50.21 45.09,50.05 45.54,50.00 45.99,50.07 46.44,50.25 46.88,50.53 47.33,50.89 47.78,51.30 48.23,51.74 48.68,52.18 49.13,52.59 49.58,52.93 50.02,53.19 50.47,53.35 50.92,53.40 51.37,53.33 51.82,53.15 52.26,52.87 52.71,52.51 53.16,52.09 53.61,51.65 54.06,51.21 54.51,50.81 54.95,50.46 55.40,50.20 55.85,50.05 56.30,50.00" fill="none" stroke="#fff" stroke-opacity="0.92" stroke-width="2.6" stroke-linejoin="round" stroke-linecap="round"/></svg>
<div class="t" style="left:343.00px;width:400px;text-align:center;top:367.48px;font-size:24px;line-height:24px;color:#fff;font-weight:bold;letter-spacing:0px;">16</div>
<div class="sq" style="left:589.75px;top:347.50px;background:#f5cd5a"></div>
<svg class="wv" style="left:589.75px;top:347.50px" width="59.5" height="59.5" viewBox="0 0 60 60"><polyline points="2.50,43.30 2.95,43.36 3.40,43.53 3.84,43.80 4.29,44.15 4.74,44.56 5.19,45.00 5.64,45.44 6.09,45.85 6.54,46.20 6.98,46.47 7.43,46.64 7.88,46.70 8.33,46.64 8.78,46.47 9.22,46.20 9.67,45.84 10.12,45.43 10.57,44.99 11.02,44.55 11.47,44.14 11.91,43.79 12.36,43.52 12.81,43.36 13.26,43.30 13.71,43.36 14.16,43.53 14.60,43.81 15.05,44.16 15.50,44.57 15.95,45.01 16.40,45.45 16.85,45.86 17.29,46.21 17.74,46.48 18.19,46.65 18.64,46.70 19.09,46.64 19.54,46.46 19.98,46.19 20.43,45.84 20.88,45.42 21.33,44.98 21.78,44.54 22.23,44.13 22.68,43.78 23.12,43.52 23.57,43.35 24.02,43.30 24.47,43.36 24.92,43.54 25.36,43.81 25.81,44.17 26.26,44.58 26.71,45.02 27.16,45.46 27.61,45.87 28.05,46.22 28.50,46.48 28.95,46.65 29.40,46.70 29.85,46.64 30.30,46.46 30.74,46.18 31.19,45.83 31.64,45.41 32.09,44.97 32.54,44.53 32.99,44.13 33.44,43.78 33.88,43.51 34.33,43.35 34.78,43.30 35.23,43.37 35.68,43.54 36.12,43.82 36.57,44.18 37.02,44.59 37.47,45.03 37.92,45.47 38.37,45.88 38.82,46.23 39.26,46.49 39.71,46.65 40.16,46.70 40.61,46.63 41.06,46.45 41.50,46.18 41.95,45.82 42.40,45.40 42.85,44.96 43.30,44.52 43.75,44.12 44.20,43.77 44.64,43.51 45.09,43.35 45.54,43.30 45.99,43.37 46.44,43.55 46.88,43.83 47.33,44.19 47.78,44.60 48.23,45.04 48.68,45.48 49.13,45.89 49.58,46.23 50.02,46.49 50.47,46.65 50.92,46.70 51.37,46.63 51.82,46.45 52.26,46.17 52.71,45.81 53.16,45.39 53.61,44.95 54.06,44.51 54.51,44.11 54.95,43.76 55.40,43.50 55.85,43.35 56.30,43.30" fill="none" stroke="#fff" stroke-opacity="0.92" stroke-width="2.6" stroke-linejoin="round" stroke-linecap="round"/><polyline points="2.50,50.00 2.95,50.06 3.40,50.23 3.84,50.50 4.29,50.85 4.74,51.26 5.19,51.70 5.64,52.14 6.09,52.55 6.54,52.90 6.98,53.17 7.43,53.34 7.88,53.40 8.33,53.34 8.78,53.17 9.22,52.90 9.67,52.54 10.12,52.13 10.57,51.69 11.02,51.25 11.47,50.84 11.91,50.49 12.36,50.22 12.81,50.06 13.26,50.00 13.71,50.06 14.16,50.23 14.60,50.51 15.05,50.86 15.50,51.27 15.95,51.71 16.40,52.15 16.85,52.56 17.29,52.91 17.74,53.18 18.19,53.35 18.64,53.40 19.09,53.34 19.54,53.16 19.98,52.89 20.43,52.54 20.88,52.12 21.33,51.68 21.78,51.24 22.23,50.83 22.68,50.48 23.12,50.22 23.57,50.05 24.02,50.00 24.47,50.06 24.92,50.24 25.36,50.51 25.81,50.87 26.26,51.28 26.71,51.72 27.16,52.16 27.61,52.57 28.05,52.92 28.50,53.18 28.95,53.35 29.40,53.40 29.85,53.34 30.30,53.16 30.74,52.88 31.19,52.53 31.64,52.11 32.09,51.67 32.54,51.23 32.99,50.83 33.44,50.48 33.88,50.21 34.33,50.05 34.78,50.00 35.23,50.07 35.68,50.24 36.12,50.52 36.57,50.88 37.02,51.29 37.47,51.73 37.92,52.17 38.37,52.58 38.82,52.93 39.26,53.19 39.71,53.35 40.16,53.40 40.61,53.33 41.06,53.15 41.50,52.88 41.95,52.52 42.40,52.10 42.85,51.66 43.30,51.22 43.75,50.82 44.20,50.47 44.64,50.21 45.09,50.05 45.54,50.00 45.99,50.07 46.44,50.25 46.88,50.53 47.33,50.89 47.78,51.30 48.23,51.74 48.68,52.18 49.13,52.59 49.58,52.93 50.02,53.19 50.47,53.35 50.92,53.40 51.37,53.33 51.82,53.15 52.26,52.87 52.71,52.51 53.16,52.09 53.61,51.65 54.06,51.21 54.51,50.81 54.95,50.46 55.40,50.20 55.85,50.05 56.30,50.00" fill="none" stroke="#fff" stroke-opacity="0.92" stroke-width="2.6" stroke-linejoin="round" stroke-linecap="round"/></svg>
<div class="t" style="left:419.50px;width:400px;text-align:center;top:367.48px;font-size:24px;line-height:24px;color:#fff;font-weight:bold;letter-spacing:0px;">18</div>
<div class="sq" style="left:666.25px;top:347.50px;background:#f0b040"></div>
<svg class="wv" style="left:666.25px;top:347.50px" width="59.5" height="59.5" viewBox="0 0 60 60"><polyline points="2.50,43.30 2.95,43.36 3.40,43.53 3.84,43.80 4.29,44.15 4.74,44.56 5.19,45.00 5.64,45.44 6.09,45.85 6.54,46.20 6.98,46.47 7.43,46.64 7.88,46.70 8.33,46.64 8.78,46.47 9.22,46.20 9.67,45.84 10.12,45.43 10.57,44.99 11.02,44.55 11.47,44.14 11.91,43.79 12.36,43.52 12.81,43.36 13.26,43.30 13.71,43.36 14.16,43.53 14.60,43.81 15.05,44.16 15.50,44.57 15.95,45.01 16.40,45.45 16.85,45.86 17.29,46.21 17.74,46.48 18.19,46.65 18.64,46.70 19.09,46.64 19.54,46.46 19.98,46.19 20.43,45.84 20.88,45.42 21.33,44.98 21.78,44.54 22.23,44.13 22.68,43.78 23.12,43.52 23.57,43.35 24.02,43.30 24.47,43.36 24.92,43.54 25.36,43.81 25.81,44.17 26.26,44.58 26.71,45.02 27.16,45.46 27.61,45.87 28.05,46.22 28.50,46.48 28.95,46.65 29.40,46.70 29.85,46.64 30.30,46.46 30.74,46.18 31.19,45.83 31.64,45.41 32.09,44.97 32.54,44.53 32.99,44.13 33.44,43.78 33.88,43.51 34.33,43.35 34.78,43.30 35.23,43.37 35.68,43.54 36.12,43.82 36.57,44.18 37.02,44.59 37.47,45.03 37.92,45.47 38.37,45.88 38.82,46.23 39.26,46.49 39.71,46.65 40.16,46.70 40.61,46.63 41.06,46.45 41.50,46.18 41.95,45.82 42.40,45.40 42.85,44.96 43.30,44.52 43.75,44.12 44.20,43.77 44.64,43.51 45.09,43.35 45.54,43.30 45.99,43.37 46.44,43.55 46.88,43.83 47.33,44.19 47.78,44.60 48.23,45.04 48.68,45.48 49.13,45.89 49.58,46.23 50.02,46.49 50.47,46.65 50.92,46.70 51.37,46.63 51.82,46.45 52.26,46.17 52.71,45.81 53.16,45.39 53.61,44.95 54.06,44.51 54.51,44.11 54.95,43.76 55.40,43.50 55.85,43.35 56.30,43.30" fill="none" stroke="#fff" stroke-opacity="0.92" stroke-width="2.6" stroke-linejoin="round" stroke-linecap="round"/><polyline points="2.50,50.00 2.95,50.06 3.40,50.23 3.84,50.50 4.29,50.85 4.74,51.26 5.19,51.70 5.64,52.14 6.09,52.55 6.54,52.90 6.98,53.17 7.43,53.34 7.88,53.40 8.33,53.34 8.78,53.17 9.22,52.90 9.67,52.54 10.12,52.13 10.57,51.69 11.02,51.25 11.47,50.84 11.91,50.49 12.36,50.22 12.81,50.06 13.26,50.00 13.71,50.06 14.16,50.23 14.60,50.51 15.05,50.86 15.50,51.27 15.95,51.71 16.40,52.15 16.85,52.56 17.29,52.91 17.74,53.18 18.19,53.35 18.64,53.40 19.09,53.34 19.54,53.16 19.98,52.89 20.43,52.54 20.88,52.12 21.33,51.68 21.78,51.24 22.23,50.83 22.68,50.48 23.12,50.22 23.57,50.05 24.02,50.00 24.47,50.06 24.92,50.24 25.36,50.51 25.81,50.87 26.26,51.28 26.71,51.72 27.16,52.16 27.61,52.57 28.05,52.92 28.50,53.18 28.95,53.35 29.40,53.40 29.85,53.34 30.30,53.16 30.74,52.88 31.19,52.53 31.64,52.11 32.09,51.67 32.54,51.23 32.99,50.83 33.44,50.48 33.88,50.21 34.33,50.05 34.78,50.00 35.23,50.07 35.68,50.24 36.12,50.52 36.57,50.88 37.02,51.29 37.47,51.73 37.92,52.17 38.37,52.58 38.82,52.93 39.26,53.19 39.71,53.35 40.16,53.40 40.61,53.33 41.06,53.15 41.50,52.88 41.95,52.52 42.40,52.10 42.85,51.66 43.30,51.22 43.75,50.82 44.20,50.47 44.64,50.21 45.09,50.05 45.54,50.00 45.99,50.07 46.44,50.25 46.88,50.53 47.33,50.89 47.78,51.30 48.23,51.74 48.68,52.18 49.13,52.59 49.58,52.93 50.02,53.19 50.47,53.35 50.92,53.40 51.37,53.33 51.82,53.15 52.26,52.87 52.71,52.51 53.16,52.09 53.61,51.65 54.06,51.21 54.51,50.81 54.95,50.46 55.40,50.20 55.85,50.05 56.30,50.00" fill="none" stroke="#fff" stroke-opacity="0.92" stroke-width="2.6" stroke-linejoin="round" stroke-linecap="round"/></svg>
<div class="t" style="left:496.00px;width:400px;text-align:center;top:367.48px;font-size:24px;line-height:24px;color:#fff;font-weight:bold;letter-spacing:0px;">21</div>
<div class="sq" style="left:742.75px;top:347.50px;background:#ed7231"></div>
<svg class="wv" style="left:742.75px;top:347.50px" width="59.5" height="59.5" viewBox="0 0 60 60"><polyline points="2.50,43.30 2.95,43.36 3.40,43.53 3.84,43.80 4.29,44.15 4.74,44.56 5.19,45.00 5.64,45.44 6.09,45.85 6.54,46.20 6.98,46.47 7.43,46.64 7.88,46.70 8.33,46.64 8.78,46.47 9.22,46.20 9.67,45.84 10.12,45.43 10.57,44.99 11.02,44.55 11.47,44.14 11.91,43.79 12.36,43.52 12.81,43.36 13.26,43.30 13.71,43.36 14.16,43.53 14.60,43.81 15.05,44.16 15.50,44.57 15.95,45.01 16.40,45.45 16.85,45.86 17.29,46.21 17.74,46.48 18.19,46.65 18.64,46.70 19.09,46.64 19.54,46.46 19.98,46.19 20.43,45.84 20.88,45.42 21.33,44.98 21.78,44.54 22.23,44.13 22.68,43.78 23.12,43.52 23.57,43.35 24.02,43.30 24.47,43.36 24.92,43.54 25.36,43.81 25.81,44.17 26.26,44.58 26.71,45.02 27.16,45.46 27.61,45.87 28.05,46.22 28.50,46.48 28.95,46.65 29.40,46.70 29.85,46.64 30.30,46.46 30.74,46.18 31.19,45.83 31.64,45.41 32.09,44.97 32.54,44.53 32.99,44.13 33.44,43.78 33.88,43.51 34.33,43.35 34.78,43.30 35.23,43.37 35.68,43.54 36.12,43.82 36.57,44.18 37.02,44.59 37.47,45.03 37.92,45.47 38.37,45.88 38.82,46.23 39.26,46.49 39.71,46.65 40.16,46.70 40.61,46.63 41.06,46.45 41.50,46.18 41.95,45.82 42.40,45.40 42.85,44.96 43.30,44.52 43.75,44.12 44.20,43.77 44.64,43.51 45.09,43.35 45.54,43.30 45.99,43.37 46.44,43.55 46.88,43.83 47.33,44.19 47.78,44.60 48.23,45.04 48.68,45.48 49.13,45.89 49.58,46.23 50.02,46.49 50.47,46.65 50.92,46.70 51.37,46.63 51.82,46.45 52.26,46.17 52.71,45.81 53.16,45.39 53.61,44.95 54.06,44.51 54.51,44.11 54.95,43.76 55.40,43.50 55.85,43.35 56.30,43.30" fill="none" stroke="#fff" stroke-opacity="0.92" stroke-width="2.6" stroke-linejoin="round" stroke-linecap="round"/><polyline points="2.50,50.00 2.95,50.06 3.40,50.23 3.84,50.50 4.29,50.85 4.74,51.26 5.19,51.70 5.64,52.14 6.09,52.55 6.54,52.90 6.98,53.17 7.43,53.34 7.88,53.40 8.33,53.34 8.78,53.17 9.22,52.90 9.67,52.54 10.12,52.13 10.57,51.69 11.02,51.25 11.47,50.84 11.91,50.49 12.36,50.22 12.81,50.06 13.26,50.00 13.71,50.06 14.16,50.23 14.60,50.51 15.05,50.86 15.50,51.27 15.95,51.71 16.40,52.15 16.85,52.56 17.29,52.91 17.74,53.18 18.19,53.35 18.64,53.40 19.09,53.34 19.54,53.16 19.98,52.89 20.43,52.54 20.88,52.12 21.33,51.68 21.78,51.24 22.23,50.83 22.68,50.48 23.12,50.22 23.57,50.05 24.02,50.00 24.47,50.06 24.92,50.24 25.36,50.51 25.81,50.87 26.26,51.28 26.71,51.72 27.16,52.16 27.61,52.57 28.05,52.92 28.50,53.18 28.95,53.35 29.40,53.40 29.85,53.34 30.30,53.16 30.74,52.88 31.19,52.53 31.64,52.11 32.09,51.67 32.54,51.23 32.99,50.83 33.44,50.48 33.88,50.21 34.33,50.05 34.78,50.00 35.23,50.07 35.68,50.24 36.12,50.52 36.57,50.88 37.02,51.29 37.47,51.73 37.92,52.17 38.37,52.58 38.82,52.93 39.26,53.19 39.71,53.35 40.16,53.40 40.61,53.33 41.06,53.15 41.50,52.88 41.95,52.52 42.40,52.10 42.85,51.66 43.30,51.22 43.75,50.82 44.20,50.47 44.64,50.21 45.09,50.05 45.54,50.00 45.99,50.07 46.44,50.25 46.88,50.53 47.33,50.89 47.78,51.30 48.23,51.74 48.68,52.18 49.13,52.59 49.58,52.93 50.02,53.19 50.47,53.35 50.92,53.40 51.37,53.33 51.82,53.15 52.26,52.87 52.71,52.51 53.16,52.09 53.61,51.65 54.06,51.21 54.51,50.81 54.95,50.46 55.40,50.20 55.85,50.05 56.30,50.00" fill="none" stroke="#fff" stroke-opacity="0.92" stroke-width="2.6" stroke-linejoin="round" stroke-linecap="round"/></svg>
<div class="t" style="left:572.50px;width:400px;text-align:center;top:367.48px;font-size:24px;line-height:24px;color:#fff;font-weight:bold;letter-spacing:0px;">24</div>
<div class="sq" style="left:819.25px;top:347.50px;background:#e34e25"></div>
<svg class="wv" style="left:819.25px;top:347.50px" width="59.5" height="59.5" viewBox="0 0 60 60"><polyline points="2.50,43.30 2.95,43.36 3.40,43.53 3.84,43.80 4.29,44.15 4.74,44.56 5.19,45.00 5.64,45.44 6.09,45.85 6.54,46.20 6.98,46.47 7.43,46.64 7.88,46.70 8.33,46.64 8.78,46.47 9.22,46.20 9.67,45.84 10.12,45.43 10.57,44.99 11.02,44.55 11.47,44.14 11.91,43.79 12.36,43.52 12.81,43.36 13.26,43.30 13.71,43.36 14.16,43.53 14.60,43.81 15.05,44.16 15.50,44.57 15.95,45.01 16.40,45.45 16.85,45.86 17.29,46.21 17.74,46.48 18.19,46.65 18.64,46.70 19.09,46.64 19.54,46.46 19.98,46.19 20.43,45.84 20.88,45.42 21.33,44.98 21.78,44.54 22.23,44.13 22.68,43.78 23.12,43.52 23.57,43.35 24.02,43.30 24.47,43.36 24.92,43.54 25.36,43.81 25.81,44.17 26.26,44.58 26.71,45.02 27.16,45.46 27.61,45.87 28.05,46.22 28.50,46.48 28.95,46.65 29.40,46.70 29.85,46.64 30.30,46.46 30.74,46.18 31.19,45.83 31.64,45.41 32.09,44.97 32.54,44.53 32.99,44.13 33.44,43.78 33.88,43.51 34.33,43.35 34.78,43.30 35.23,43.37 35.68,43.54 36.12,43.82 36.57,44.18 37.02,44.59 37.47,45.03 37.92,45.47 38.37,45.88 38.82,46.23 39.26,46.49 39.71,46.65 40.16,46.70 40.61,46.63 41.06,46.45 41.50,46.18 41.95,45.82 42.40,45.40 42.85,44.96 43.30,44.52 43.75,44.12 44.20,43.77 44.64,43.51 45.09,43.35 45.54,43.30 45.99,43.37 46.44,43.55 46.88,43.83 47.33,44.19 47.78,44.60 48.23,45.04 48.68,45.48 49.13,45.89 49.58,46.23 50.02,46.49 50.47,46.65 50.92,46.70 51.37,46.63 51.82,46.45 52.26,46.17 52.71,45.81 53.16,45.39 53.61,44.95 54.06,44.51 54.51,44.11 54.95,43.76 55.40,43.50 55.85,43.35 56.30,43.30" fill="none" stroke="#fff" stroke-opacity="0.92" stroke-width="2.6" stroke-linejoin="round" stroke-linecap="round"/><polyline points="2.50,50.00 2.95,50.06 3.40,50.23 3.84,50.50 4.29,50.85 4.74,51.26 5.19,51.70 5.64,52.14 6.09,52.55 6.54,52.90 6.98,53.17 7.43,53.34 7.88,53.40 8.33,53.34 8.78,53.17 9.22,52.90 9.67,52.54 10.12,52.13 10.57,51.69 11.02,51.25 11.47,50.84 11.91,50.49 12.36,50.22 12.81,50.06 13.26,50.00 13.71,50.06 14.16,50.23 14.60,50.51 15.05,50.86 15.50,51.27 15.95,51.71 16.40,52.15 16.85,52.56 17.29,52.91 17.74,53.18 18.19,53.35 18.64,53.40 19.09,53.34 19.54,53.16 19.98,52.89 20.43,52.54 20.88,52.12 21.33,51.68 21.78,51.24 22.23,50.83 22.68,50.48 23.12,50.22 23.57,50.05 24.02,50.00 24.47,50.06 24.92,50.24 25.36,50.51 25.81,50.87 26.26,51.28 26.71,51.72 27.16,52.16 27.61,52.57 28.05,52.92 28.50,53.18 28.95,53.35 29.40,53.40 29.85,53.34 30.30,53.16 30.74,52.88 31.19,52.53 31.64,52.11 32.09,51.67 32.54,51.23 32.99,50.83 33.44,50.48 33.88,50.21 34.33,50.05 34.78,50.00 35.23,50.07 35.68,50.24 36.12,50.52 36.57,50.88 37.02,51.29 37.47,51.73 37.92,52.17 38.37,52.58 38.82,52.93 39.26,53.19 39.71,53.35 40.16,53.40 40.61,53.33 41.06,53.15 41.50,52.88 41.95,52.52 42.40,52.10 42.85,51.66 43.30,51.22 43.75,50.82 44.20,50.47 44.64,50.21 45.09,50.05 45.54,50.00 45.99,50.07 46.44,50.25 46.88,50.53 47.33,50.89 47.78,51.30 48.23,51.74 48.68,52.18 49.13,52.59 49.58,52.93 50.02,53.19 50.47,53.35 50.92,53.40 51.37,53.33 51.82,53.15 52.26,52.87 52.71,52.51 53.16,52.09 53.61,51.65 54.06,51.21 54.51,50.81 54.95,50.46 55.40,50.20 55.85,50.05 56.30,50.00" fill="none" stroke="#fff" stroke-opacity="0.92" stroke-width="2.6" stroke-linejoin="round" stroke-linecap="round"/></svg>
<div class="t" style="left:649.00px;width:400px;text-align:center;top:367.48px;font-size:24px;line-height:24px;color:#fff;font-weight:bold;letter-spacing:0px;">26</div>
<div class="sq" style="left:895.75px;top:347.50px;background:#eb6b2d"></div>
<svg class="wv" style="left:895.75px;top:347.50px" width="59.5" height="59.5" viewBox="0 0 60 60"><polyline points="2.50,43.30 2.95,43.36 3.40,43.53 3.84,43.80 4.29,44.15 4.74,44.56 5.19,45.00 5.64,45.44 6.09,45.85 6.54,46.20 6.98,46.47 7.43,46.64 7.88,46.70 8.33,46.64 8.78,46.47 9.22,46.20 9.67,45.84 10.12,45.43 10.57,44.99 11.02,44.55 11.47,44.14 11.91,43.79 12.36,43.52 12.81,43.36 13.26,43.30 13.71,43.36 14.16,43.53 14.60,43.81 15.05,44.16 15.50,44.57 15.95,45.01 16.40,45.45 16.85,45.86 17.29,46.21 17.74,46.48 18.19,46.65 18.64,46.70 19.09,46.64 19.54,46.46 19.98,46.19 20.43,45.84 20.88,45.42 21.33,44.98 21.78,44.54 22.23,44.13 22.68,43.78 23.12,43.52 23.57,43.35 24.02,43.30 24.47,43.36 24.92,43.54 25.36,43.81 25.81,44.17 26.26,44.58 26.71,45.02 27.16,45.46 27.61,45.87 28.05,46.22 28.50,46.48 28.95,46.65 29.40,46.70 29.85,46.64 30.30,46.46 30.74,46.18 31.19,45.83 31.64,45.41 32.09,44.97 32.54,44.53 32.99,44.13 33.44,43.78 33.88,43.51 34.33,43.35 34.78,43.30 35.23,43.37 35.68,43.54 36.12,43.82 36.57,44.18 37.02,44.59 37.47,45.03 37.92,45.47 38.37,45.88 38.82,46.23 39.26,46.49 39.71,46.65 40.16,46.70 40.61,46.63 41.06,46.45 41.50,46.18 41.95,45.82 42.40,45.40 42.85,44.96 43.30,44.52 43.75,44.12 44.20,43.77 44.64,43.51 45.09,43.35 45.54,43.30 45.99,43.37 46.44,43.55 46.88,43.83 47.33,44.19 47.78,44.60 48.23,45.04 48.68,45.48 49.13,45.89 49.58,46.23 50.02,46.49 50.47,46.65 50.92,46.70 51.37,46.63 51.82,46.45 52.26,46.17 52.71,45.81 53.16,45.39 53.61,44.95 54.06,44.51 54.51,44.11 54.95,43.76 55.40,43.50 55.85,43.35 56.30,43.30" fill="none" stroke="#fff" stroke-opacity="0.92" stroke-width="2.6" stroke-linejoin="round" stroke-linecap="round"/><polyline points="2.50,50.00 2.95,50.06 3.40,50.23 3.84,50.50 4.29,50.85 4.74,51.26 5.19,51.70 5.64,52.14 6.09,52.55 6.54,52.90 6.98,53.17 7.43,53.34 7.88,53.40 8.33,53.34 8.78,53.17 9.22,52.90 9.67,52.54 10.12,52.13 10.57,51.69 11.02,51.25 11.47,50.84 11.91,50.49 12.36,50.22 12.81,50.06 13.26,50.00 13.71,50.06 14.16,50.23 14.60,50.51 15.05,50.86 15.50,51.27 15.95,51.71 16.40,52.15 16.85,52.56 17.29,52.91 17.74,53.18 18.19,53.35 18.64,53.40 19.09,53.34 19.54,53.16 19.98,52.89 20.43,52.54 20.88,52.12 21.33,51.68 21.78,51.24 22.23,50.83 22.68,50.48 23.12,50.22 23.57,50.05 24.02,50.00 24.47,50.06 24.92,50.24 25.36,50.51 25.81,50.87 26.26,51.28 26.71,51.72 27.16,52.16 27.61,52.57 28.05,52.92 28.50,53.18 28.95,53.35 29.40,53.40 29.85,53.34 30.30,53.16 30.74,52.88 31.19,52.53 31.64,52.11 32.09,51.67 32.54,51.23 32.99,50.83 33.44,50.48 33.88,50.21 34.33,50.05 34.78,50.00 35.23,50.07 35.68,50.24 36.12,50.52 36.57,50.88 37.02,51.29 37.47,51.73 37.92,52.17 38.37,52.58 38.82,52.93 39.26,53.19 39.71,53.35 40.16,53.40 40.61,53.33 41.06,53.15 41.50,52.88 41.95,52.52 42.40,52.10 42.85,51.66 43.30,51.22 43.75,50.82 44.20,50.47 44.64,50.21 45.09,50.05 45.54,50.00 45.99,50.07 46.44,50.25 46.88,50.53 47.33,50.89 47.78,51.30 48.23,51.74 48.68,52.18 49.13,52.59 49.58,52.93 50.02,53.19 50.47,53.35 50.92,53.40 51.37,53.33 51.82,53.15 52.26,52.87 52.71,52.51 53.16,52.09 53.61,51.65 54.06,51.21 54.51,50.81 54.95,50.46 55.40,50.20 55.85,50.05 56.30,50.00" fill="none" stroke="#fff" stroke-opacity="0.92" stroke-width="2.6" stroke-linejoin="round" stroke-linecap="round"/></svg>
<div class="t" style="left:725.50px;width:400px;text-align:center;top:367.48px;font-size:24px;line-height:24px;color:#fff;font-weight:bold;letter-spacing:0px;">25</div>
<div class="sq" style="left:972.25px;top:347.50px;background:#ef9a3c"></div>
<svg class="wv" style="left:972.25px;top:347.50px" width="59.5" height="59.5" viewBox="0 0 60 60"><polyline points="2.50,43.30 2.95,43.36 3.40,43.53 3.84,43.80 4.29,44.15 4.74,44.56 5.19,45.00 5.64,45.44 6.09,45.85 6.54,46.20 6.98,46.47 7.43,46.64 7.88,46.70 8.33,46.64 8.78,46.47 9.22,46.20 9.67,45.84 10.12,45.43 10.57,44.99 11.02,44.55 11.47,44.14 11.91,43.79 12.36,43.52 12.81,43.36 13.26,43.30 13.71,43.36 14.16,43.53 14.60,43.81 15.05,44.16 15.50,44.57 15.95,45.01 16.40,45.45 16.85,45.86 17.29,46.21 17.74,46.48 18.19,46.65 18.64,46.70 19.09,46.64 19.54,46.46 19.98,46.19 20.43,45.84 20.88,45.42 21.33,44.98 21.78,44.54 22.23,44.13 22.68,43.78 23.12,43.52 23.57,43.35 24.02,43.30 24.47,43.36 24.92,43.54 25.36,43.81 25.81,44.17 26.26,44.58 26.71,45.02 27.16,45.46 27.61,45.87 28.05,46.22 28.50,46.48 28.95,46.65 29.40,46.70 29.85,46.64 30.30,46.46 30.74,46.18 31.19,45.83 31.64,45.41 32.09,44.97 32.54,44.53 32.99,44.13 33.44,43.78 33.88,43.51 34.33,43.35 34.78,43.30 35.23,43.37 35.68,43.54 36.12,43.82 36.57,44.18 37.02,44.59 37.47,45.03 37.92,45.47 38.37,45.88 38.82,46.23 39.26,46.49 39.71,46.65 40.16,46.70 40.61,46.63 41.06,46.45 41.50,46.18 41.95,45.82 42.40,45.40 42.85,44.96 43.30,44.52 43.75,44.12 44.20,43.77 44.64,43.51 45.09,43.35 45.54,43.30 45.99,43.37 46.44,43.55 46.88,43.83 47.33,44.19 47.78,44.60 48.23,45.04 48.68,45.48 49.13,45.89 49.58,46.23 50.02,46.49 50.47,46.65 50.92,46.70 51.37,46.63 51.82,46.45 52.26,46.17 52.71,45.81 53.16,45.39 53.61,44.95 54.06,44.51 54.51,44.11 54.95,43.76 55.40,43.50 55.85,43.35 56.30,43.30" fill="none" stroke="#fff" stroke-opacity="0.92" stroke-width="2.6" stroke-linejoin="round" stroke-linecap="round"/><polyline points="2.50,50.00 2.95,50.06 3.40,50.23 3.84,50.50 4.29,50.85 4.74,51.26 5.19,51.70 5.64,52.14 6.09,52.55 6.54,52.90 6.98,53.17 7.43,53.34 7.88,53.40 8.33,53.34 8.78,53.17 9.22,52.90 9.67,52.54 10.12,52.13 10.57,51.69 11.02,51.25 11.47,50.84 11.91,50.49 12.36,50.22 12.81,50.06 13.26,50.00 13.71,50.06 14.16,50.23 14.60,50.51 15.05,50.86 15.50,51.27 15.95,51.71 16.40,52.15 16.85,52.56 17.29,52.91 17.74,53.18 18.19,53.35 18.64,53.40 19.09,53.34 19.54,53.16 19.98,52.89 20.43,52.54 20.88,52.12 21.33,51.68 21.78,51.24 22.23,50.83 22.68,50.48 23.12,50.22 23.57,50.05 24.02,50.00 24.47,50.06 24.92,50.24 25.36,50.51 25.81,50.87 26.26,51.28 26.71,51.72 27.16,52.16 27.61,52.57 28.05,52.92 28.50,53.18 28.95,53.35 29.40,53.40 29.85,53.34 30.30,53.16 30.74,52.88 31.19,52.53 31.64,52.11 32.09,51.67 32.54,51.23 32.99,50.83 33.44,50.48 33.88,50.21 34.33,50.05 34.78,50.00 35.23,50.07 35.68,50.24 36.12,50.52 36.57,50.88 37.02,51.29 37.47,51.73 37.92,52.17 38.37,52.58 38.82,52.93 39.26,53.19 39.71,53.35 40.16,53.40 40.61,53.33 41.06,53.15 41.50,52.88 41.95,52.52 42.40,52.10 42.85,51.66 43.30,51.22 43.75,50.82 44.20,50.47 44.64,50.21 45.09,50.05 45.54,50.00 45.99,50.07 46.44,50.25 46.88,50.53 47.33,50.89 47.78,51.30 48.23,51.74 48.68,52.18 49.13,52.59 49.58,52.93 50.02,53.19 50.47,53.35 50.92,53.40 51.37,53.33 51.82,53.15 52.26,52.87 52.71,52.51 53.16,52.09 53.61,51.65 54.06,51.21 54.51,50.81 54.95,50.46 55.40,50.20 55.85,50.05 56.30,50.00" fill="none" stroke="#fff" stroke-opacity="0.92" stroke-width="2.6" stroke-linejoin="round" stroke-linecap="round"/></svg>
<div class="t" style="left:802.00px;width:400px;text-align:center;top:367.48px;font-size:24px;line-height:24px;color:#fff;font-weight:bold;letter-spacing:0px;">22</div>
<div class="sq" style="left:1048.75px;top:347.50px;background:#f5c855"></div>
<svg class="wv" style="left:1048.75px;top:347.50px" width="59.5" height="59.5" viewBox="0 0 60 60"><polyline points="2.50,43.30 2.95,43.36 3.40,43.53 3.84,43.80 4.29,44.15 4.74,44.56 5.19,45.00 5.64,45.44 6.09,45.85 6.54,46.20 6.98,46.47 7.43,46.64 7.88,46.70 8.33,46.64 8.78,46.47 9.22,46.20 9.67,45.84 10.12,45.43 10.57,44.99 11.02,44.55 11.47,44.14 11.91,43.79 12.36,43.52 12.81,43.36 13.26,43.30 13.71,43.36 14.16,43.53 14.60,43.81 15.05,44.16 15.50,44.57 15.95,45.01 16.40,45.45 16.85,45.86 17.29,46.21 17.74,46.48 18.19,46.65 18.64,46.70 19.09,46.64 19.54,46.46 19.98,46.19 20.43,45.84 20.88,45.42 21.33,44.98 21.78,44.54 22.23,44.13 22.68,43.78 23.12,43.52 23.57,43.35 24.02,43.30 24.47,43.36 24.92,43.54 25.36,43.81 25.81,44.17 26.26,44.58 26.71,45.02 27.16,45.46 27.61,45.87 28.05,46.22 28.50,46.48 28.95,46.65 29.40,46.70 29.85,46.64 30.30,46.46 30.74,46.18 31.19,45.83 31.64,45.41 32.09,44.97 32.54,44.53 32.99,44.13 33.44,43.78 33.88,43.51 34.33,43.35 34.78,43.30 35.23,43.37 35.68,43.54 36.12,43.82 36.57,44.18 37.02,44.59 37.47,45.03 37.92,45.47 38.37,45.88 38.82,46.23 39.26,46.49 39.71,46.65 40.16,46.70 40.61,46.63 41.06,46.45 41.50,46.18 41.95,45.82 42.40,45.40 42.85,44.96 43.30,44.52 43.75,44.12 44.20,43.77 44.64,43.51 45.09,43.35 45.54,43.30 45.99,43.37 46.44,43.55 46.88,43.83 47.33,44.19 47.78,44.60 48.23,45.04 48.68,45.48 49.13,45.89 49.58,46.23 50.02,46.49 50.47,46.65 50.92,46.70 51.37,46.63 51.82,46.45 52.26,46.17 52.71,45.81 53.16,45.39 53.61,44.95 54.06,44.51 54.51,44.11 54.95,43.76 55.40,43.50 55.85,43.35 56.30,43.30" fill="none" stroke="#fff" stroke-opacity="0.92" stroke-width="2.6" stroke-linejoin="round" stroke-linecap="round"/><polyline points="2.50,50.00 2.95,50.06 3.40,50.23 3.84,50.50 4.29,50.85 4.74,51.26 5.19,51.70 5.64,52.14 6.09,52.55 6.54,52.90 6.98,53.17 7.43,53.34 7.88,53.40 8.33,53.34 8.78,53.17 9.22,52.90 9.67,52.54 10.12,52.13 10.57,51.69 11.02,51.25 11.47,50.84 11.91,50.49 12.36,50.22 12.81,50.06 13.26,50.00 13.71,50.06 14.16,50.23 14.60,50.51 15.05,50.86 15.50,51.27 15.95,51.71 16.40,52.15 16.85,52.56 17.29,52.91 17.74,53.18 18.19,53.35 18.64,53.40 19.09,53.34 19.54,53.16 19.98,52.89 20.43,52.54 20.88,52.12 21.33,51.68 21.78,51.24 22.23,50.83 22.68,50.48 23.12,50.22 23.57,50.05 24.02,50.00 24.47,50.06 24.92,50.24 25.36,50.51 25.81,50.87 26.26,51.28 26.71,51.72 27.16,52.16 27.61,52.57 28.05,52.92 28.50,53.18 28.95,53.35 29.40,53.40 29.85,53.34 30.30,53.16 30.74,52.88 31.19,52.53 31.64,52.11 32.09,51.67 32.54,51.23 32.99,50.83 33.44,50.48 33.88,50.21 34.33,50.05 34.78,50.00 35.23,50.07 35.68,50.24 36.12,50.52 36.57,50.88 37.02,51.29 37.47,51.73 37.92,52.17 38.37,52.58 38.82,52.93 39.26,53.19 39.71,53.35 40.16,53.40 40.61,53.33 41.06,53.15 41.50,52.88 41.95,52.52 42.40,52.10 42.85,51.66 43.30,51.22 43.75,50.82 44.20,50.47 44.64,50.21 45.09,50.05 45.54,50.00 45.99,50.07 46.44,50.25 46.88,50.53 47.33,50.89 47.78,51.30 48.23,51.74 48.68,52.18 49.13,52.59 49.58,52.93 50.02,53.19 50.47,53.35 50.92,53.40 51.37,53.33 51.82,53.15 52.26,52.87 52.71,52.51 53.16,52.09 53.61,51.65 54.06,51.21 54.51,50.81 54.95,50.46 55.40,50.20 55.85,50.05 56.30,50.00" fill="none" stroke="#fff" stroke-opacity="0.92" stroke-width="2.6" stroke-linejoin="round" stroke-linecap="round"/></svg>
<div class="t" style="left:878.50px;width:400px;text-align:center;top:367.48px;font-size:24px;line-height:24px;color:#fff;font-weight:bold;letter-spacing:0px;">19</div>
<div class="sq" style="left:1125.25px;top:347.50px;background:#b8e34a"></div>
<svg class="wv" style="left:1125.25px;top:347.50px" width="59.5" height="59.5" viewBox="0 0 60 60"><polyline points="2.50,43.30 2.95,43.36 3.40,43.53 3.84,43.80 4.29,44.15 4.74,44.56 5.19,45.00 5.64,45.44 6.09,45.85 6.54,46.20 6.98,46.47 7.43,46.64 7.88,46.70 8.33,46.64 8.78,46.47 9.22,46.20 9.67,45.84 10.12,45.43 10.57,44.99 11.02,44.55 11.47,44.14 11.91,43.79 12.36,43.52 12.81,43.36 13.26,43.30 13.71,43.36 14.16,43.53 14.60,43.81 15.05,44.16 15.50,44.57 15.95,45.01 16.40,45.45 16.85,45.86 17.29,46.21 17.74,46.48 18.19,46.65 18.64,46.70 19.09,46.64 19.54,46.46 19.98,46.19 20.43,45.84 20.88,45.42 21.33,44.98 21.78,44.54 22.23,44.13 22.68,43.78 23.12,43.52 23.57,43.35 24.02,43.30 24.47,43.36 24.92,43.54 25.36,43.81 25.81,44.17 26.26,44.58 26.71,45.02 27.16,45.46 27.61,45.87 28.05,46.22 28.50,46.48 28.95,46.65 29.40,46.70 29.85,46.64 30.30,46.46 30.74,46.18 31.19,45.83 31.64,45.41 32.09,44.97 32.54,44.53 32.99,44.13 33.44,43.78 33.88,43.51 34.33,43.35 34.78,43.30 35.23,43.37 35.68,43.54 36.12,43.82 36.57,44.18 37.02,44.59 37.47,45.03 37.92,45.47 38.37,45.88 38.82,46.23 39.26,46.49 39.71,46.65 40.16,46.70 40.61,46.63 41.06,46.45 41.50,46.18 41.95,45.82 42.40,45.40 42.85,44.96 43.30,44.52 43.75,44.12 44.20,43.77 44.64,43.51 45.09,43.35 45.54,43.30 45.99,43.37 46.44,43.55 46.88,43.83 47.33,44.19 47.78,44.60 48.23,45.04 48.68,45.48 49.13,45.89 49.58,46.23 50.02,46.49 50.47,46.65 50.92,46.70 51.37,46.63 51.82,46.45 52.26,46.17 52.71,45.81 53.16,45.39 53.61,44.95 54.06,44.51 54.51,44.11 54.95,43.76 55.40,43.50 55.85,43.35 56.30,43.30" fill="none" stroke="#fff" stroke-opacity="0.92" stroke-width="2.6" stroke-linejoin="round" stroke-linecap="round"/><polyline points="2.50,50.00 2.95,50.06 3.40,50.23 3.84,50.50 4.29,50.85 4.74,51.26 5.19,51.70 5.64,52.14 6.09,52.55 6.54,52.90 6.98,53.17 7.43,53.34 7.88,53.40 8.33,53.34 8.78,53.17 9.22,52.90 9.67,52.54 10.12,52.13 10.57,51.69 11.02,51.25 11.47,50.84 11.91,50.49 12.36,50.22 12.81,50.06 13.26,50.00 13.71,50.06 14.16,50.23 14.60,50.51 15.05,50.86 15.50,51.27 15.95,51.71 16.40,52.15 16.85,52.56 17.29,52.91 17.74,53.18 18.19,53.35 18.64,53.40 19.09,53.34 19.54,53.16 19.98,52.89 20.43,52.54 20.88,52.12 21.33,51.68 21.78,51.24 22.23,50.83 22.68,50.48 23.12,50.22 23.57,50.05 24.02,50.00 24.47,50.06 24.92,50.24 25.36,50.51 25.81,50.87 26.26,51.28 26.71,51.72 27.16,52.16 27.61,52.57 28.05,52.92 28.50,53.18 28.95,53.35 29.40,53.40 29.85,53.34 30.30,53.16 30.74,52.88 31.19,52.53 31.64,52.11 32.09,51.67 32.54,51.23 32.99,50.83 33.44,50.48 33.88,50.21 34.33,50.05 34.78,50.00 35.23,50.07 35.68,50.24 36.12,50.52 36.57,50.88 37.02,51.29 37.47,51.73 37.92,52.17 38.37,52.58 38.82,52.93 39.26,53.19 39.71,53.35 40.16,53.40 40.61,53.33 41.06,53.15 41.50,52.88 41.95,52.52 42.40,52.10 42.85,51.66 43.30,51.22 43.75,50.82 44.20,50.47 44.64,50.21 45.09,50.05 45.54,50.00 45.99,50.07 46.44,50.25 46.88,50.53 47.33,50.89 47.78,51.30 48.23,51.74 48.68,52.18 49.13,52.59 49.58,52.93 50.02,53.19 50.47,53.35 50.92,53.40 51.37,53.33 51.82,53.15 52.26,52.87 52.71,52.51 53.16,52.09 53.61,51.65 54.06,51.21 54.51,50.81 54.95,50.46 55.40,50.20 55.85,50.05 56.30,50.00" fill="none" stroke="#fff" stroke-opacity="0.92" stroke-width="2.6" stroke-linejoin="round" stroke-linecap="round"/></svg>
<div class="t" style="left:955.00px;width:400px;text-align:center;top:367.48px;font-size:24px;line-height:24px;color:#fff;font-weight:bold;letter-spacing:0px;">17</div>
<svg class="pie" style="left:283.75px;top:692.60px" width="59.5" height="59.5" viewBox="0 0 60 60"><path d="M30,30 L30.000,0.000 A30,30 0 0 1 60.000,30.000 Z" fill="#f6c93e"/><path d="M30,30 L60.000,30.000 A30,30 0 0 1 0.456,35.209 A30,30 0 0 1 30.000,0.000 Z" fill="#999999"/></svg>
<div class="t" style="left:113.50px;width:400px;text-align:center;top:711.53px;font-size:24px;line-height:24px;color:#fff;font-weight:bold;letter-spacing:0px;">6</div>
<svg class="pie" style="left:360.25px;top:692.60px" width="59.5" height="59.5" viewBox="0 0 60 60"><path d="M30,30 L30.000,0.000 A30,30 0 0 1 60.000,30.000 Z" fill="#f6c93e"/><path d="M30,30 L60.000,30.000 A30,30 0 0 1 0.456,35.209 A30,30 0 0 1 30.000,0.000 Z" fill="#999999"/></svg>
<div class="t" style="left:190.00px;width:400px;text-align:center;top:711.53px;font-size:24px;line-height:24px;color:#fff;font-weight:bold;letter-spacing:0px;">6</div>
<svg class="pie" style="left:436.75px;top:692.60px" width="59.5" height="59.5" viewBox="0 0 60 60"><path d="M30,30 L30.000,0.000 A30,30 0 0 1 60.000,30.000 Z" fill="#f6c93e"/><path d="M30,30 L60.000,30.000 A30,30 0 0 1 0.456,35.209 A30,30 0 0 1 30.000,0.000 Z" fill="#999999"/></svg>
<div class="t" style="left:266.50px;width:400px;text-align:center;top:711.53px;font-size:24px;line-height:24px;color:#fff;font-weight:bold;letter-spacing:0px;">6</div>
<svg class="pie" style="left:513.25px;top:692.60px" width="59.5" height="59.5" viewBox="0 0 60 60"><path d="M30,30 L30.000,0.000 A30,30 0 0 1 59.344,23.763 Z" fill="#f6c93e"/><path d="M30,30 L59.344,23.763 A30,30 0 0 1 2.184,41.238 A30,30 0 0 1 30.000,0.000 Z" fill="#999999"/></svg>
<div class="t" style="left:343.00px;width:400px;text-align:center;top:711.53px;font-size:24px;line-height:24px;color:#fff;font-weight:bold;letter-spacing:0px;">5</div>
<svg class="pie" style="left:589.75px;top:692.60px" width="59.5" height="59.5" viewBox="0 0 60 60"><path d="M30,30 L30.000,0.000 A30,30 0 0 1 60.000,30.000 Z" fill="#f6c93e"/><path d="M30,30 L60.000,30.000 A30,30 0 0 1 0.456,35.209 A30,30 0 0 1 30.000,0.000 Z" fill="#999999"/></svg>
<div class="t" style="left:419.50px;width:400px;text-align:center;top:711.53px;font-size:24px;line-height:24px;color:#fff;font-weight:bold;letter-spacing:0px;">6</div>
<svg class="pie" style="left:666.25px;top:692.60px" width="59.5" height="59.5" viewBox="0 0 60 60"><path d="M30,30 L30.000,0.000 A30,30 0 0 1 56.488,15.916 Z" fill="#f6c93e"/><path d="M30,30 L56.488,15.916 A30,30 0 0 1 6.360,48.470 A30,30 0 0 1 30.000,0.000 Z" fill="#999999"/></svg>
<div class="t" style="left:496.00px;width:400px;text-align:center;top:711.53px;font-size:24px;line-height:24px;color:#fff;font-weight:bold;letter-spacing:0px;">4</div>
<svg class="pie" style="left:742.75px;top:692.60px" width="59.5" height="59.5" viewBox="0 0 60 60"><path d="M30,30 L30.000,0.000 A30,30 0 0 1 58.532,20.729 Z" fill="#f6c93e"/><path d="M30,30 L58.532,20.729 A30,30 0 0 1 3.512,44.084 A30,30 0 0 1 30.000,0.000 Z" fill="#999999"/></svg>
<div class="t" style="left:572.50px;width:400px;text-align:center;top:711.53px;font-size:24px;line-height:24px;color:#fff;font-weight:bold;letter-spacing:0px;">5</div>
<svg class="pie" style="left:819.25px;top:692.60px" width="59.5" height="59.5" viewBox="0 0 60 60"><path d="M30,30 L30.000,0.000 A30,30 0 0 1 60.000,30.000 Z" fill="#f6c93e"/><path d="M30,30 L60.000,30.000 A30,30 0 0 1 0.456,35.209 A30,30 0 0 1 30.000,0.000 Z" fill="#999999"/></svg>
<div class="t" style="left:649.00px;width:400px;text-align:center;top:711.53px;font-size:24px;line-height:24px;color:#fff;font-weight:bold;letter-spacing:0px;">6</div>
<svg class="pie" style="left:895.75px;top:692.60px" width="59.5" height="59.5" viewBox="0 0 60 60"><path d="M30,30 L30.000,0.000 A30,30 0 0 1 55.981,15.000 Z" fill="#f6c93e"/><path d="M30,30 L55.981,15.000 A30,30 0 0 1 7.019,49.284 A30,30 0 0 1 30.000,0.000 Z" fill="#999999"/></svg>
<div class="t" style="left:725.50px;width:400px;text-align:center;top:711.53px;font-size:24px;line-height:24px;color:#fff;font-weight:bold;letter-spacing:0px;">4</div>
<svg class="pie" style="left:972.25px;top:692.60px" width="59.5" height="59.5" viewBox="0 0 60 60"><path d="M30,30 L30.000,0.000 A30,30 0 0 1 55.981,15.000 Z" fill="#f6c93e"/><path d="M30,30 L55.981,15.000 A30,30 0 0 1 7.019,49.284 A30,30 0 0 1 30.000,0.000 Z" fill="#999999"/></svg>
<div class="t" style="left:802.00px;width:400px;text-align:center;top:711.53px;font-size:24px;line-height:24px;color:#fff;font-weight:bold;letter-spacing:0px;">4</div>
<svg class="pie" style="left:1048.75px;top:692.60px" width="59.5" height="59.5" viewBox="0 0 60 60"><path d="M30,30 L30.000,0.000 A30,30 0 0 1 58.978,22.235 Z" fill="#f6c93e"/><path d="M30,30 L58.978,22.235 A30,30 0 0 1 2.811,42.679 A30,30 0 0 1 30.000,0.000 Z" fill="#999999"/></svg>
<div class="t" style="left:878.50px;width:400px;text-align:center;top:711.53px;font-size:24px;line-height:24px;color:#fff;font-weight:bold;letter-spacing:0px;">5</div>
<svg class="pie" style="left:1125.25px;top:692.60px" width="59.5" height="59.5" viewBox="0 0 60 60"><path d="M30,30 L30.000,0.000 A30,30 0 0 1 60.000,30.000 Z" fill="#f6c93e"/><path d="M30,30 L60.000,30.000 A30,30 0 0 1 0.456,35.209 A30,30 0 0 1 30.000,0.000 Z" fill="#999999"/></svg>
<div class="t" style="left:955.00px;width:400px;text-align:center;top:711.53px;font-size:24px;line-height:24px;color:#fff;font-weight:bold;letter-spacing:0px;">6</div>
<svg class="pie" style="left:283.75px;top:773.05px" width="59.5" height="59.5" viewBox="0 0 60 60"><path d="M30,30 L30.000,0.000 A30,30 0 0 1 45.000,55.981 Z" fill="#cbcbcb"/><path d="M30,30 L45.000,55.981 A30,30 0 0 1 10.716,7.019 A30,30 0 0 1 30.000,0.000 Z" fill="#999999"/></svg>
<div class="t" style="left:113.50px;width:400px;text-align:center;top:791.98px;font-size:24px;line-height:24px;color:#fff;font-weight:bold;letter-spacing:0px;">10</div>
<svg class="pie" style="left:360.25px;top:773.05px" width="59.5" height="59.5" viewBox="0 0 60 60"><path d="M30,30 L30.000,0.000 A30,30 0 0 1 37.765,58.978 Z" fill="#cbcbcb"/><path d="M30,30 L37.765,58.978 A30,30 0 0 1 17.321,2.811 A30,30 0 0 1 30.000,0.000 Z" fill="#999999"/></svg>
<div class="t" style="left:190.00px;width:400px;text-align:center;top:791.98px;font-size:24px;line-height:24px;color:#fff;font-weight:bold;letter-spacing:0px;">11</div>
<svg class="pie" style="left:436.75px;top:773.05px" width="59.5" height="59.5" viewBox="0 0 60 60"><path d="M30,30 L30.000,0.000 A30,30 0 0 1 35.209,59.544 A30,30 0 0 1 30.000,60.000 Z" fill="#cbcbcb"/><path d="M30,30 L30.000,60.000 A30,30 0 0 1 24.791,0.456 A30,30 0 0 1 30.000,0.000 Z" fill="#999999"/></svg>
<div class="t" style="left:266.50px;width:400px;text-align:center;top:791.98px;font-size:24px;line-height:24px;color:#fff;font-weight:bold;letter-spacing:0px;">12</div>
<svg class="pie" style="left:513.25px;top:773.05px" width="59.5" height="59.5" viewBox="0 0 60 60"><path d="M30,30 L30.000,0.000 A30,30 0 0 1 35.209,59.544 A30,30 0 0 1 22.235,58.978 Z" fill="#cbcbcb"/><path d="M30,30 L22.235,58.978 A30,30 0 0 1 30.000,0.000 Z" fill="#999999"/></svg>
<div class="t" style="left:343.00px;width:400px;text-align:center;top:791.98px;font-size:24px;line-height:24px;color:#fff;font-weight:bold;letter-spacing:0px;">13</div>
<svg class="pie" style="left:589.75px;top:773.05px" width="59.5" height="59.5" viewBox="0 0 60 60"><path d="M30,30 L30.000,0.000 A30,30 0 0 1 35.209,59.544 A30,30 0 0 1 15.000,55.981 Z" fill="#cbcbcb"/><path d="M30,30 L15.000,55.981 A30,30 0 0 1 30.000,0.000 Z" fill="#999999"/></svg>
<div class="t" style="left:419.50px;width:400px;text-align:center;top:791.98px;font-size:24px;line-height:24px;color:#fff;font-weight:bold;letter-spacing:0px;">14</div>
<svg class="pie" style="left:666.25px;top:773.05px" width="59.5" height="59.5" viewBox="0 0 60 60"><path d="M30,30 L30.000,0.000 A30,30 0 0 1 35.209,59.544 A30,30 0 0 1 8.787,51.213 Z" fill="#cbcbcb"/><path d="M30,30 L8.787,51.213 A30,30 0 0 1 30.000,0.000 Z" fill="#999999"/></svg>
<div class="t" style="left:496.00px;width:400px;text-align:center;top:791.98px;font-size:24px;line-height:24px;color:#fff;font-weight:bold;letter-spacing:0px;">15</div>
<svg class="pie" style="left:742.75px;top:773.05px" width="59.5" height="59.5" viewBox="0 0 60 60"><path d="M30,30 L30.000,0.000 A30,30 0 0 1 35.209,59.544 A30,30 0 0 1 15.000,55.981 Z" fill="#cbcbcb"/><path d="M30,30 L15.000,55.981 A30,30 0 0 1 30.000,0.000 Z" fill="#999999"/></svg>
<div class="t" style="left:572.50px;width:400px;text-align:center;top:791.98px;font-size:24px;line-height:24px;color:#fff;font-weight:bold;letter-spacing:0px;">14</div>
<svg class="pie" style="left:819.25px;top:773.05px" width="59.5" height="59.5" viewBox="0 0 60 60"><path d="M30,30 L30.000,0.000 A30,30 0 0 1 35.209,59.544 A30,30 0 0 1 22.235,58.978 Z" fill="#cbcbcb"/><path d="M30,30 L22.235,58.978 A30,30 0 0 1 30.000,0.000 Z" fill="#999999"/></svg>
<div class="t" style="left:649.00px;width:400px;text-align:center;top:791.98px;font-size:24px;line-height:24px;color:#fff;font-weight:bold;letter-spacing:0px;">13</div>
<svg class="pie" style="left:895.75px;top:773.05px" width="59.5" height="59.5" viewBox="0 0 60 60"><path d="M30,30 L30.000,0.000 A30,30 0 0 1 35.209,59.544 A30,30 0 0 1 30.000,60.000 Z" fill="#cbcbcb"/><path d="M30,30 L30.000,60.000 A30,30 0 0 1 24.791,0.456 A30,30 0 0 1 30.000,0.000 Z" fill="#999999"/></svg>
<div class="t" style="left:725.50px;width:400px;text-align:center;top:791.98px;font-size:24px;line-height:24px;color:#fff;font-weight:bold;letter-spacing:0px;">12</div>
<svg class="pie" style="left:972.25px;top:773.05px" width="59.5" height="59.5" viewBox="0 0 60 60"><path d="M30,30 L30.000,0.000 A30,30 0 0 1 37.765,58.978 Z" fill="#cbcbcb"/><path d="M30,30 L37.765,58.978 A30,30 0 0 1 17.321,2.811 A30,30 0 0 1 30.000,0.000 Z" fill="#999999"/></svg>
<div class="t" style="left:802.00px;width:400px;text-align:center;top:791.98px;font-size:24px;line-height:24px;color:#fff;font-weight:bold;letter-spacing:0px;">11</div>
<svg class="pie" style="left:1048.75px;top:773.05px" width="59.5" height="59.5" viewBox="0 0 60 60"><path d="M30,30 L30.000,0.000 A30,30 0 0 1 45.000,55.981 Z" fill="#cbcbcb"/><path d="M30,30 L45.000,55.981 A30,30 0 0 1 10.716,7.019 A30,30 0 0 1 30.000,0.000 Z" fill="#999999"/></svg>
<div class="t" style="left:878.50px;width:400px;text-align:center;top:791.98px;font-size:24px;line-height:24px;color:#fff;font-weight:bold;letter-spacing:0px;">10</div>
<svg class="pie" style="left:1125.25px;top:773.05px" width="59.5" height="59.5" viewBox="0 0 60 60"><path d="M30,30 L30.000,0.000 A30,30 0 0 1 45.898,55.441 Z" fill="#cbcbcb"/><path d="M30,30 L45.898,55.441 A30,30 0 0 1 9.926,7.706 A30,30 0 0 1 30.000,0.000 Z" fill="#999999"/></svg>
<div class="t" style="left:955.00px;width:400px;text-align:center;top:791.98px;font-size:24px;line-height:24px;color:#fff;font-weight:bold;letter-spacing:0px;">10</div>
<div class="c" style="left:283.75px;top:852.30px;background:#6ab12f"></div>
<div class="t" style="left:113.50px;width:400px;text-align:center;top:871.23px;font-size:24px;line-height:24px;color:#fff;font-weight:bold;letter-spacing:0px;">2</div>
<div class="c" style="left:360.25px;top:852.30px;background:#f2e54a"></div>
<div class="t" style="left:190.00px;width:400px;text-align:center;top:871.23px;font-size:24px;line-height:24px;color:#fff;font-weight:bold;letter-spacing:0px;">3</div>
<div class="c" style="left:436.75px;top:852.30px;background:#f2e54a"></div>
<div class="t" style="left:266.50px;width:400px;text-align:center;top:871.23px;font-size:24px;line-height:24px;color:#fff;font-weight:bold;letter-spacing:0px;">5</div>
<div class="c" style="left:513.25px;top:852.30px;background:#e5652b"></div>
<div class="t" style="left:343.00px;width:400px;text-align:center;top:871.23px;font-size:24px;line-height:24px;color:#fff;font-weight:bold;letter-spacing:0px;">7</div>
<div class="c" style="left:589.75px;top:852.30px;background:#c9282d"></div>
<div class="t" style="left:419.50px;width:400px;text-align:center;top:871.23px;font-size:24px;line-height:24px;color:#fff;font-weight:bold;letter-spacing:0px;">9</div>
<div class="c" style="left:666.25px;top:852.30px;background:#c9282d"></div>
<div class="t" style="left:496.00px;width:400px;text-align:center;top:871.23px;font-size:24px;line-height:24px;color:#fff;font-weight:bold;letter-spacing:0px;">10</div>
<div class="c" style="left:742.75px;top:852.30px;background:#c9282d"></div>
<div class="t" style="left:572.50px;width:400px;text-align:center;top:871.23px;font-size:24px;line-height:24px;color:#fff;font-weight:bold;letter-spacing:0px;">10</div>
<div class="c" style="left:819.25px;top:852.30px;background:#c9282d"></div>
<div class="t" style="left:649.00px;width:400px;text-align:center;top:871.23px;font-size:24px;line-height:24px;color:#fff;font-weight:bold;letter-spacing:0px;">10</div>
<div class="c" style="left:895.75px;top:852.30px;background:#c9282d"></div>
<div class="t" style="left:725.50px;width:400px;text-align:center;top:871.23px;font-size:24px;line-height:24px;color:#fff;font-weight:bold;letter-spacing:0px;">8</div>
<div class="c" style="left:972.25px;top:852.30px;background:#f2e54a"></div>
<div class="t" style="left:802.00px;width:400px;text-align:center;top:871.23px;font-size:24px;line-height:24px;color:#fff;font-weight:bold;letter-spacing:0px;">5</div>
<div class="c" style="left:1048.75px;top:852.30px;background:#f2e54a"></div>
<div class="t" style="left:878.50px;width:400px;text-align:center;top:871.23px;font-size:24px;line-height:24px;color:#fff;font-weight:bold;letter-spacing:0px;">3</div>
<div class="c" style="left:1125.25px;top:852.30px;background:#6ab12f"></div>
<div class="t" style="left:955.00px;width:400px;text-align:center;top:871.23px;font-size:24px;line-height:24px;color:#fff;font-weight:bold;letter-spacing:0px;">2</div>
<div class="c" style="left:283.75px;top:1107.20px;background:#80b3f2"></div>
<svg class="cl" style="left:283.75px;top:1106.90px" width="70" height="40" viewBox="0 0 70 40" overflow="visible"><g transform="translate(0,0)" fill="#aaaaab"><circle cx="7.6" cy="13.2" r="7.6"/><circle cx="18.4" cy="7.9" r="7.9"/><circle cx="26.5" cy="16.6" r="6.9"/><rect x="0" y="11" width="33.4" height="13.4" rx="7" ry="7"/><rect x="7" y="12" width="20" height="12.4"/></g></svg>
<div class="t" style="left:113.50px;width:400px;text-align:center;top:1126.13px;font-size:24px;line-height:24px;color:#fff;font-weight:bold;letter-spacing:0px;">9</div>
<div class="c" style="left:360.25px;top:1107.20px;background:#80b3f2"></div>
<svg class="cl" style="left:360.25px;top:1106.90px" width="70" height="40" viewBox="0 0 70 40" overflow="visible"><g transform="translate(0,0)" fill="#9a9a9a"><circle cx="7.6" cy="13.2" r="7.6"/><circle cx="18.4" cy="7.9" r="7.9"/><circle cx="26.5" cy="16.6" r="6.9"/><rect x="0" y="11" width="33.4" height="13.4" rx="7" ry="7"/><rect x="7" y="12" width="20" height="12.4"/></g></svg>
<div class="t" style="left:190.00px;width:400px;text-align:center;top:1126.13px;font-size:24px;line-height:24px;color:#fff;font-weight:bold;letter-spacing:0px;">11</div>
<div class="c" style="left:436.75px;top:1107.20px;background:#80b3f2"></div>
<svg class="cl" style="left:436.75px;top:1106.90px" width="70" height="40" viewBox="0 0 70 40" overflow="visible"><g transform="translate(0,0)" fill="#808080"><circle cx="7.6" cy="13.2" r="7.6"/><circle cx="18.4" cy="7.9" r="7.9"/><circle cx="26.5" cy="16.6" r="6.9"/><rect x="0" y="11" width="33.4" height="13.4" rx="7" ry="7"/><rect x="7" y="12" width="20" height="12.4"/></g></svg>
<div class="t" style="left:266.50px;width:400px;text-align:center;top:1126.13px;font-size:24px;line-height:24px;color:#fff;font-weight:bold;letter-spacing:0px;">16</div>
<div class="c" style="left:513.25px;top:1107.20px;background:#80b3f2"></div>
<svg class="cl" style="left:513.25px;top:1106.90px" width="70" height="40" viewBox="0 0 70 40" overflow="visible"><g transform="translate(0,0)" fill="#808080"><circle cx="7.6" cy="13.2" r="7.6"/><circle cx="18.4" cy="7.9" r="7.9"/><circle cx="26.5" cy="16.6" r="6.9"/><rect x="0" y="11" width="33.4" height="13.4" rx="7" ry="7"/><rect x="7" y="12" width="20" height="12.4"/></g></svg>
<div class="t" style="left:343.00px;width:400px;text-align:center;top:1126.13px;font-size:24px;line-height:24px;color:#fff;font-weight:bold;letter-spacing:0px;">16</div>
<div class="c" style="left:589.75px;top:1107.20px;background:#80b3f2"></div>
<svg class="cl" style="left:589.75px;top:1106.90px" width="70" height="40" viewBox="0 0 70 40" overflow="visible"><g transform="translate(0,0)" fill="#808080"><circle cx="7.6" cy="13.2" r="7.6"/><circle cx="18.4" cy="7.9" r="7.9"/><circle cx="26.5" cy="16.6" r="6.9"/><rect x="0" y="11" width="33.4" height="13.4" rx="7" ry="7"/><rect x="7" y="12" width="20" height="12.4"/></g></svg>
<div class="t" style="left:419.50px;width:400px;text-align:center;top:1126.13px;font-size:24px;line-height:24px;color:#fff;font-weight:bold;letter-spacing:0px;">16</div>
<div class="c" style="left:666.25px;top:1107.20px;background:#80b3f2"></div>
<svg class="cl" style="left:666.25px;top:1106.90px" width="70" height="40" viewBox="0 0 70 40" overflow="visible"><g transform="translate(19.6,-1.6)" fill="#c8c8c8"><circle cx="7.6" cy="13.2" r="7.6"/><circle cx="18.4" cy="7.9" r="7.9"/><circle cx="26.5" cy="16.6" r="6.9"/><rect x="0" y="11" width="33.4" height="13.4" rx="7" ry="7"/><rect x="7" y="12" width="20" height="12.4"/></g><g transform="translate(0,0)" fill="#808080"><circle cx="7.6" cy="13.2" r="7.6"/><circle cx="18.4" cy="7.9" r="7.9"/><circle cx="26.5" cy="16.6" r="6.9"/><rect x="0" y="11" width="33.4" height="13.4" rx="7" ry="7"/><rect x="7" y="12" width="20" height="12.4"/></g></svg>
<div class="t" style="left:496.00px;width:400px;text-align:center;top:1126.13px;font-size:24px;line-height:24px;color:#fff;font-weight:bold;letter-spacing:0px;">20</div>
<div class="c" style="left:742.75px;top:1107.20px;background:#80b3f2"></div>
<svg class="cl" style="left:742.75px;top:1106.90px" width="70" height="40" viewBox="0 0 70 40" overflow="visible"><g transform="translate(19.6,-1.6)" fill="#c8c8c8"><circle cx="7.6" cy="13.2" r="7.6"/><circle cx="18.4" cy="7.9" r="7.9"/><circle cx="26.5" cy="16.6" r="6.9"/><rect x="0" y="11" width="33.4" height="13.4" rx="7" ry="7"/><rect x="7" y="12" width="20" height="12.4"/></g><g transform="translate(0,0)" fill="#808080"><circle cx="7.6" cy="13.2" r="7.6"/><circle cx="18.4" cy="7.9" r="7.9"/><circle cx="26.5" cy="16.6" r="6.9"/><rect x="0" y="11" width="33.4" height="13.4" rx="7" ry="7"/><rect x="7" y="12" width="20" height="12.4"/></g></svg>
<div class="t" style="left:572.50px;width:400px;text-align:center;top:1126.13px;font-size:24px;line-height:24px;color:#fff;font-weight:bold;letter-spacing:0px;">19</div>
<div class="c" style="left:819.25px;top:1107.20px;background:#80b3f2"></div>
<svg class="cl" style="left:819.25px;top:1106.90px" width="70" height="40" viewBox="0 0 70 40" overflow="visible"><g transform="translate(0,0)" fill="#808080"><circle cx="7.6" cy="13.2" r="7.6"/><circle cx="18.4" cy="7.9" r="7.9"/><circle cx="26.5" cy="16.6" r="6.9"/><rect x="0" y="11" width="33.4" height="13.4" rx="7" ry="7"/><rect x="7" y="12" width="20" height="12.4"/></g></svg>
<div class="t" style="left:649.00px;width:400px;text-align:center;top:1126.13px;font-size:24px;line-height:24px;color:#fff;font-weight:bold;letter-spacing:0px;">16</div>
<div class="c" style="left:895.75px;top:1107.20px;background:#80b3f2"></div>
<svg class="cl" style="left:895.75px;top:1106.90px" width="70" height="40" viewBox="0 0 70 40" overflow="visible"><g transform="translate(19.6,-1.6)" fill="#c8c8c8"><circle cx="7.6" cy="13.2" r="7.6"/><circle cx="18.4" cy="7.9" r="7.9"/><circle cx="26.5" cy="16.6" r="6.9"/><rect x="0" y="11" width="33.4" height="13.4" rx="7" ry="7"/><rect x="7" y="12" width="20" height="12.4"/></g><g transform="translate(0,0)" fill="#808080"><circle cx="7.6" cy="13.2" r="7.6"/><circle cx="18.4" cy="7.9" r="7.9"/><circle cx="26.5" cy="16.6" r="6.9"/><rect x="0" y="11" width="33.4" height="13.4" rx="7" ry="7"/><rect x="7" y="12" width="20" height="12.4"/></g></svg>
<div class="t" style="left:725.50px;width:400px;text-align:center;top:1126.13px;font-size:24px;line-height:24px;color:#fff;font-weight:bold;letter-spacing:0px;">19</div>
<div class="c" style="left:972.25px;top:1107.20px;background:#80b3f2"></div>
<svg class="cl" style="left:972.25px;top:1106.90px" width="70" height="40" viewBox="0 0 70 40" overflow="visible"><g transform="translate(0,0)" fill="#808080"><circle cx="7.6" cy="13.2" r="7.6"/><circle cx="18.4" cy="7.9" r="7.9"/><circle cx="26.5" cy="16.6" r="6.9"/><rect x="0" y="11" width="33.4" height="13.4" rx="7" ry="7"/><rect x="7" y="12" width="20" height="12.4"/></g></svg>
<div class="t" style="left:802.00px;width:400px;text-align:center;top:1126.13px;font-size:24px;line-height:24px;color:#fff;font-weight:bold;letter-spacing:0px;">16</div>
<div class="c" style="left:1048.75px;top:1107.20px;background:#80b3f2"></div>
<svg class="cl" style="left:1048.75px;top:1106.90px" width="70" height="40" viewBox="0 0 70 40" overflow="visible"><g transform="translate(0,0)" fill="#9a9a9a"><circle cx="7.6" cy="13.2" r="7.6"/><circle cx="18.4" cy="7.9" r="7.9"/><circle cx="26.5" cy="16.6" r="6.9"/><rect x="0" y="11" width="33.4" height="13.4" rx="7" ry="7"/><rect x="7" y="12" width="20" height="12.4"/></g></svg>
<div class="t" style="left:878.50px;width:400px;text-align:center;top:1126.13px;font-size:24px;line-height:24px;color:#fff;font-weight:bold;letter-spacing:0px;">12</div>
<div class="c" style="left:1125.25px;top:1107.20px;background:#80b3f2"></div>
<svg class="cl" style="left:1125.25px;top:1106.90px" width="70" height="40" viewBox="0 0 70 40" overflow="visible"><g transform="translate(0,0)" fill="#aaaaab"><circle cx="7.6" cy="13.2" r="7.6"/><circle cx="18.4" cy="7.9" r="7.9"/><circle cx="26.5" cy="16.6" r="6.9"/><rect x="0" y="11" width="33.4" height="13.4" rx="7" ry="7"/><rect x="7" y="12" width="20" height="12.4"/></g></svg>
<div class="t" style="left:955.00px;width:400px;text-align:center;top:1126.13px;font-size:24px;line-height:24px;color:#fff;font-weight:bold;letter-spacing:0px;">9</div>
<div class="c" style="left:283.75px;top:1186.70px;background:#999;overflow:hidden"><div style="position:absolute;left:0;right:0;bottom:0;height:4.20px;background:#80b3f2"></div></div>
<svg class="drop" style="left:308.70px;top:1187.90px" width="9.6" height="15.6" viewBox="0 0 9.6 15.6"><path d="M4.8,0 C6.6,0 9.6,7 9.6,10.8 A4.8,4.8 0 0 1 0,10.8 C0,7 3,0 4.8,0 Z" fill="#80b3f2"/></svg>
<div class="t" style="left:113.50px;width:400px;text-align:center;top:1205.63px;font-size:24px;line-height:24px;color:#fff;font-weight:bold;letter-spacing:0px;">43</div>
<div class="c" style="left:360.25px;top:1186.70px;background:#999;overflow:hidden"><div style="position:absolute;left:0;right:0;bottom:0;height:5.27px;background:#80b3f2"></div></div>
<svg class="drop" style="left:385.20px;top:1187.90px" width="9.6" height="15.6" viewBox="0 0 9.6 15.6"><path d="M4.8,0 C6.6,0 9.6,7 9.6,10.8 A4.8,4.8 0 0 1 0,10.8 C0,7 3,0 4.8,0 Z" fill="#80b3f2"/></svg>
<div class="t" style="left:190.00px;width:400px;text-align:center;top:1205.63px;font-size:24px;line-height:24px;color:#fff;font-weight:bold;letter-spacing:0px;">58</div>
<div class="c" style="left:436.75px;top:1186.70px;background:#999;overflow:hidden"><div style="position:absolute;left:0;right:0;bottom:0;height:7.82px;background:#80b3f2"></div></div>
<svg class="drop" style="left:461.70px;top:1187.90px" width="9.6" height="15.6" viewBox="0 0 9.6 15.6"><path d="M4.8,0 C6.6,0 9.6,7 9.6,10.8 A4.8,4.8 0 0 1 0,10.8 C0,7 3,0 4.8,0 Z" fill="#80b3f2"/></svg>
<div class="t" style="left:266.50px;width:400px;text-align:center;top:1205.63px;font-size:24px;line-height:24px;color:#fff;font-weight:bold;letter-spacing:0px;">94</div>
<div class="c" style="left:513.25px;top:1186.70px;background:#999;overflow:hidden"><div style="position:absolute;left:0;right:0;bottom:0;height:9.60px;background:#80b3f2"></div></div>
<svg class="drop" style="left:538.20px;top:1187.90px" width="9.6" height="15.6" viewBox="0 0 9.6 15.6"><path d="M4.8,0 C6.6,0 9.6,7 9.6,10.8 A4.8,4.8 0 0 1 0,10.8 C0,7 3,0 4.8,0 Z" fill="#80b3f2"/></svg>
<div class="t" style="left:343.00px;width:400px;text-align:center;top:1205.63px;font-size:24px;line-height:24px;color:#fff;font-weight:bold;letter-spacing:0px;">119</div>
<div class="c" style="left:589.75px;top:1186.70px;background:#999;overflow:hidden"><div style="position:absolute;left:0;right:0;bottom:0;height:10.52px;background:#80b3f2"></div></div>
<svg class="drop" style="left:614.70px;top:1187.90px" width="9.6" height="15.6" viewBox="0 0 9.6 15.6"><path d="M4.8,0 C6.6,0 9.6,7 9.6,10.8 A4.8,4.8 0 0 1 0,10.8 C0,7 3,0 4.8,0 Z" fill="#80b3f2"/></svg>
<div class="t" style="left:419.50px;width:400px;text-align:center;top:1205.63px;font-size:24px;line-height:24px;color:#fff;font-weight:bold;letter-spacing:0px;">132</div>
<div class="c" style="left:666.25px;top:1186.70px;background:#999;overflow:hidden"><div style="position:absolute;left:0;right:0;bottom:0;height:14.00px;background:#80b3f2"></div></div>
<svg class="drop" style="left:691.20px;top:1187.90px" width="9.6" height="15.6" viewBox="0 0 9.6 15.6"><path d="M4.8,0 C6.6,0 9.6,7 9.6,10.8 A4.8,4.8 0 0 1 0,10.8 C0,7 3,0 4.8,0 Z" fill="#80b3f2"/></svg>
<div class="t" style="left:496.00px;width:400px;text-align:center;top:1205.63px;font-size:24px;line-height:24px;color:#fff;font-weight:bold;letter-spacing:0px;">181</div>
<div class="c" style="left:742.75px;top:1186.70px;background:#999;overflow:hidden"><div style="position:absolute;left:0;right:0;bottom:0;height:10.24px;background:#80b3f2"></div></div>
<svg class="drop" style="left:767.70px;top:1187.90px" width="9.6" height="15.6" viewBox="0 0 9.6 15.6"><path d="M4.8,0 C6.6,0 9.6,7 9.6,10.8 A4.8,4.8 0 0 1 0,10.8 C0,7 3,0 4.8,0 Z" fill="#80b3f2"/></svg>
<div class="t" style="left:572.50px;width:400px;text-align:center;top:1205.63px;font-size:24px;line-height:24px;color:#fff;font-weight:bold;letter-spacing:0px;">128</div>
<div class="c" style="left:819.25px;top:1186.70px;background:#999;overflow:hidden"><div style="position:absolute;left:0;right:0;bottom:0;height:11.59px;background:#80b3f2"></div></div>
<svg class="drop" style="left:844.20px;top:1187.90px" width="9.6" height="15.6" viewBox="0 0 9.6 15.6"><path d="M4.8,0 C6.6,0 9.6,7 9.6,10.8 A4.8,4.8 0 0 1 0,10.8 C0,7 3,0 4.8,0 Z" fill="#80b3f2"/></svg>
<div class="t" style="left:649.00px;width:400px;text-align:center;top:1205.63px;font-size:24px;line-height:24px;color:#fff;font-weight:bold;letter-spacing:0px;">147</div>
<div class="c" style="left:895.75px;top:1186.70px;background:#999;overflow:hidden"><div style="position:absolute;left:0;right:0;bottom:0;height:14.00px;background:#80b3f2"></div></div>
<svg class="drop" style="left:920.70px;top:1187.90px" width="9.6" height="15.6" viewBox="0 0 9.6 15.6"><path d="M4.8,0 C6.6,0 9.6,7 9.6,10.8 A4.8,4.8 0 0 1 0,10.8 C0,7 3,0 4.8,0 Z" fill="#80b3f2"/></svg>
<div class="t" style="left:725.50px;width:400px;text-align:center;top:1205.63px;font-size:24px;line-height:24px;color:#fff;font-weight:bold;letter-spacing:0px;">181</div>
<div class="c" style="left:972.25px;top:1186.70px;background:#999;overflow:hidden"><div style="position:absolute;left:0;right:0;bottom:0;height:12.37px;background:#80b3f2"></div></div>
<svg class="drop" style="left:997.20px;top:1187.90px" width="9.6" height="15.6" viewBox="0 0 9.6 15.6"><path d="M4.8,0 C6.6,0 9.6,7 9.6,10.8 A4.8,4.8 0 0 1 0,10.8 C0,7 3,0 4.8,0 Z" fill="#80b3f2"/></svg>
<div class="t" style="left:802.00px;width:400px;text-align:center;top:1205.63px;font-size:24px;line-height:24px;color:#fff;font-weight:bold;letter-spacing:0px;">158</div>
<div class="c" style="left:1048.75px;top:1186.70px;background:#999;overflow:hidden"><div style="position:absolute;left:0;right:0;bottom:0;height:7.11px;background:#80b3f2"></div></div>
<svg class="drop" style="left:1073.70px;top:1187.90px" width="9.6" height="15.6" viewBox="0 0 9.6 15.6"><path d="M4.8,0 C6.6,0 9.6,7 9.6,10.8 A4.8,4.8 0 0 1 0,10.8 C0,7 3,0 4.8,0 Z" fill="#80b3f2"/></svg>
<div class="t" style="left:878.50px;width:400px;text-align:center;top:1205.63px;font-size:24px;line-height:24px;color:#fff;font-weight:bold;letter-spacing:0px;">84</div>
<div class="c" style="left:1125.25px;top:1186.70px;background:#999;overflow:hidden"><div style="position:absolute;left:0;right:0;bottom:0;height:4.27px;background:#80b3f2"></div></div>
<svg class="drop" style="left:1150.20px;top:1187.90px" width="9.6" height="15.6" viewBox="0 0 9.6 15.6"><path d="M4.8,0 C6.6,0 9.6,7 9.6,10.8 A4.8,4.8 0 0 1 0,10.8 C0,7 3,0 4.8,0 Z" fill="#80b3f2"/></svg>
<div class="t" style="left:955.00px;width:400px;text-align:center;top:1205.63px;font-size:24px;line-height:24px;color:#fff;font-weight:bold;letter-spacing:0px;">44</div>
</body></html>
